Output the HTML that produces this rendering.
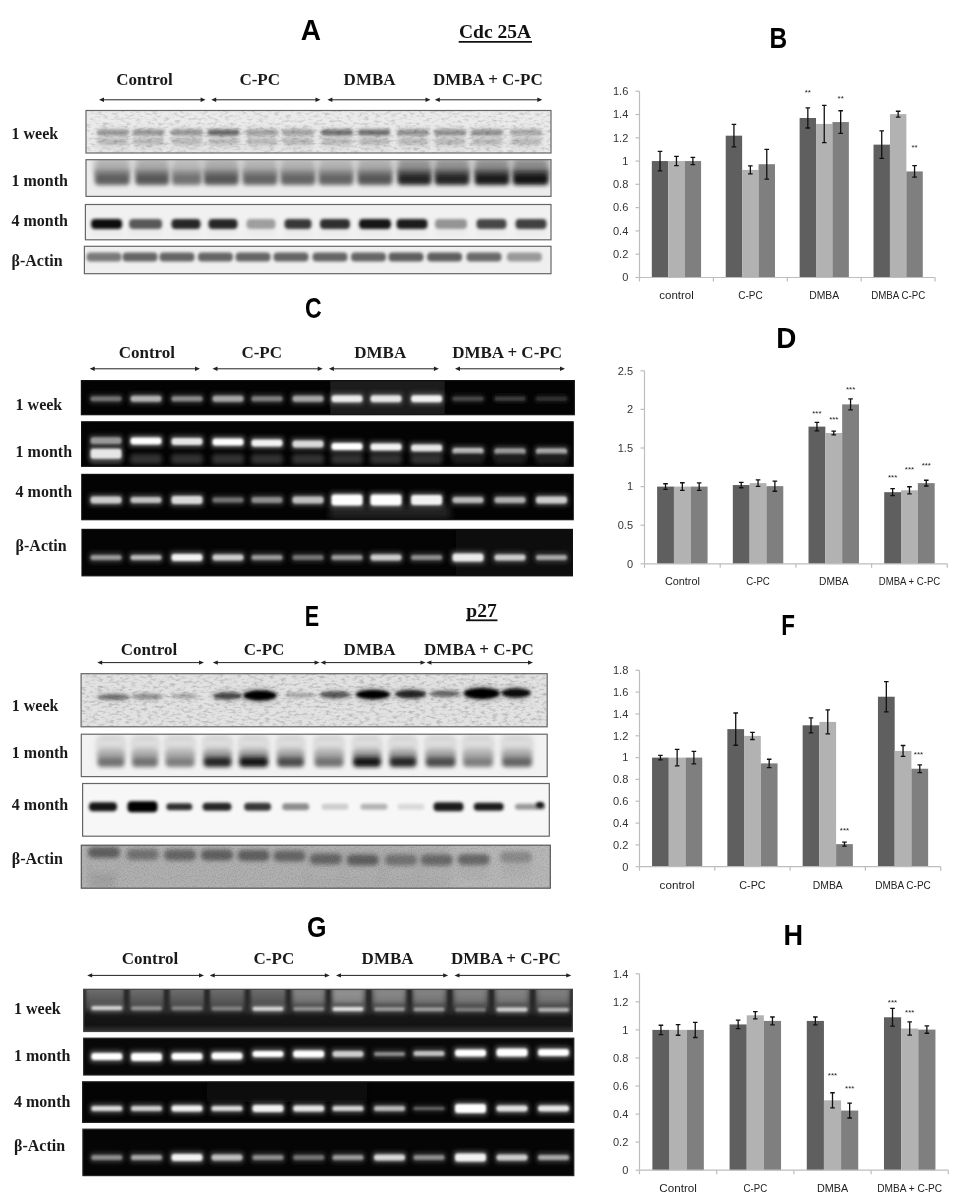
<!DOCTYPE html><html><head><meta charset="utf-8"><style>html,body{margin:0;padding:0;background:#fff;overflow:hidden}svg{display:block;}</style></head><body>
<svg width="963" height="1200">
<defs><filter id="b1" x="-50%" y="-100%" width="200%" height="300%"><feGaussianBlur stdDeviation="1"/></filter><filter id="b15" x="-50%" y="-100%" width="200%" height="300%"><feGaussianBlur stdDeviation="1.5"/></filter><filter id="b2" x="-50%" y="-100%" width="200%" height="300%"><feGaussianBlur stdDeviation="2"/></filter><filter id="b3" x="-50%" y="-100%" width="200%" height="300%"><feGaussianBlur stdDeviation="3"/></filter><filter id="b4" x="-50%" y="-100%" width="200%" height="300%"><feGaussianBlur stdDeviation="4"/></filter><filter id="noise" x="0" y="0" width="100%" height="100%"><feTurbulence type="fractalNoise" baseFrequency="0.18 0.4" numOctaves="3" seed="3"/><feColorMatrix type="matrix" values="0 0 0 0 0  0 0 0 0 0  0 0 0 0 0  0 0 0 -2.4 1.3"/><feGaussianBlur stdDeviation="0.6"/></filter><filter id="noise2" x="0" y="0" width="100%" height="100%"><feTurbulence type="fractalNoise" baseFrequency="0.25 0.12" numOctaves="2" seed="7"/><feColorMatrix type="matrix" values="0 0 0 0 1  0 0 0 0 1  0 0 0 0 1  0 0 0 -2.5 1.5"/></filter><filter id="noise3" x="0" y="0" width="100%" height="100%"><feTurbulence type="fractalNoise" baseFrequency="0.7 0.9" numOctaves="2" seed="11"/><feColorMatrix type="matrix" values="0 0 0 0 0  0 0 0 0 0  0 0 0 0 0  0 0 0 -2.6 1.45"/><feGaussianBlur stdDeviation="0.5"/></filter><linearGradient id="gw" x1="0" y1="0" x2="0" y2="1"><stop offset="0" stop-color="#6e6e6e"/><stop offset="0.4" stop-color="#4c4c4c"/><stop offset="0.56" stop-color="#181818"/><stop offset="0.85" stop-color="#131313"/><stop offset="1" stop-color="#363636"/></linearGradient><linearGradient id="well" x1="0" y1="0" x2="0" y2="1"><stop offset="0" stop-color="#6a6a6a"/><stop offset="1" stop-color="#2a2a2a"/></linearGradient></defs>
<rect width="963" height="1200" fill="#fff"/>
<text transform="translate(300.66,40.30) scale(0.2803,0.2956)" font-family='"Liberation Sans", sans-serif' font-size="100" font-weight="bold" fill="#000">A</text>
<text transform="translate(769.59,47.70) scale(0.2443,0.2884)" font-family='"Liberation Sans", sans-serif' font-size="100" font-weight="bold" fill="#000">B</text>
<text transform="translate(305.08,317.51) scale(0.2308,0.2859)" font-family='"Liberation Sans", sans-serif' font-size="100" font-weight="bold" fill="#000">C</text>
<text transform="translate(776.35,347.80) scale(0.2787,0.2913)" font-family='"Liberation Sans", sans-serif' font-size="100" font-weight="bold" fill="#000">D</text>
<text transform="translate(304.69,625.90) scale(0.2161,0.2899)" font-family='"Liberation Sans", sans-serif' font-size="100" font-weight="bold" fill="#000">E</text>
<text transform="translate(781.33,634.70) scale(0.2240,0.2957)" font-family='"Liberation Sans", sans-serif' font-size="100" font-weight="bold" fill="#000">F</text>
<text transform="translate(307.00,936.70) scale(0.2500,0.2958)" font-family='"Liberation Sans", sans-serif' font-size="100" font-weight="bold" fill="#000">G</text>
<text transform="translate(783.41,944.90) scale(0.2707,0.2884)" font-family='"Liberation Sans", sans-serif' font-size="100" font-weight="bold" fill="#000">H</text>
<text x="459.0" y="38.1" font-family='"Liberation Serif", serif' font-size="19.5" font-weight="bold" text-anchor="start" fill="#111" >Cdc 25A</text>
<line x1="458.7" y1="41.8" x2="532" y2="41.8" stroke="#111" stroke-width="1.8"/>
<text x="144.5" y="84.7" font-family='"Liberation Serif", serif' font-size="17" font-weight="bold" text-anchor="middle" fill="#1a1a1a" >Control</text>
<text x="259.7" y="84.7" font-family='"Liberation Serif", serif' font-size="17" font-weight="bold" text-anchor="middle" fill="#1a1a1a" >C-PC</text>
<text x="369.6" y="84.7" font-family='"Liberation Serif", serif' font-size="17" font-weight="bold" text-anchor="middle" fill="#1a1a1a" >DMBA</text>
<text x="487.8" y="84.7" font-family='"Liberation Serif", serif' font-size="17" font-weight="bold" text-anchor="middle" fill="#1a1a1a" >DMBA + C-PC</text>
<line x1="102.0" y1="99.8" x2="202.6" y2="99.8" stroke="#222" stroke-width="1"/>
<path d="M99.0,99.8 l5,-2.2 v4.4 z M205.6,99.8 l-5,-2.2 v4.4 z" fill="#222"/>
<line x1="214.2" y1="99.8" x2="317.5" y2="99.8" stroke="#222" stroke-width="1"/>
<path d="M211.2,99.8 l5,-2.2 v4.4 z M320.5,99.8 l-5,-2.2 v4.4 z" fill="#222"/>
<line x1="330.4" y1="99.8" x2="427.5" y2="99.8" stroke="#222" stroke-width="1"/>
<path d="M327.4,99.8 l5,-2.2 v4.4 z M430.5,99.8 l-5,-2.2 v4.4 z" fill="#222"/>
<line x1="437.8" y1="99.8" x2="539.3" y2="99.8" stroke="#222" stroke-width="1"/>
<path d="M434.8,99.8 l5,-2.2 v4.4 z M542.3,99.8 l-5,-2.2 v4.4 z" fill="#222"/>
<text x="11.5" y="138.5" font-family='"Liberation Serif", serif' font-size="16" font-weight="bold" text-anchor="start" fill="#1a1a1a" >1 week</text>
<text x="11.5" y="186.2" font-family='"Liberation Serif", serif' font-size="16" font-weight="bold" text-anchor="start" fill="#1a1a1a" >1 month</text>
<text x="11.5" y="225.7" font-family='"Liberation Serif", serif' font-size="16" font-weight="bold" text-anchor="start" fill="#1a1a1a" >4 month</text>
<text x="11.5" y="266.2" font-family='"Liberation Serif", serif' font-size="16" font-weight="bold" text-anchor="start" fill="#1a1a1a" >β-Actin</text>
<rect x="86.0" y="110.5" width="465.0" height="42.5" fill="#ebebeb"/>
<svg x="86.0" y="110.5" width="465.0" height="42.5" overflow="hidden">
<rect x="11.0" y="17.5" width="32.0" height="22.0" rx="4.0" fill="rgb(219,219,219)" filter="url(#b3)"/>
<rect x="11.0" y="19.0" width="32.0" height="6.0" rx="3.0" fill="rgb(153,153,153)" filter="url(#b15)"/>
<rect x="12.0" y="28.0" width="30.0" height="6.0" rx="3.0" fill="rgb(186,186,186)" filter="url(#b15)"/>
<rect x="46.5" y="17.5" width="32.0" height="22.0" rx="4.0" fill="rgb(219,219,219)" filter="url(#b3)"/>
<rect x="46.5" y="19.0" width="32.0" height="6.0" rx="3.0" fill="rgb(153,153,153)" filter="url(#b15)"/>
<rect x="47.5" y="28.0" width="30.0" height="6.0" rx="3.0" fill="rgb(186,186,186)" filter="url(#b15)"/>
<rect x="85.0" y="17.5" width="32.0" height="22.0" rx="4.0" fill="rgb(219,219,219)" filter="url(#b3)"/>
<rect x="85.0" y="19.0" width="32.0" height="6.0" rx="3.0" fill="rgb(153,153,153)" filter="url(#b15)"/>
<rect x="86.0" y="28.0" width="30.0" height="6.0" rx="3.0" fill="rgb(186,186,186)" filter="url(#b15)"/>
<rect x="121.5" y="17.5" width="32.0" height="22.0" rx="4.0" fill="rgb(219,219,219)" filter="url(#b3)"/>
<rect x="121.5" y="19.0" width="32.0" height="6.0" rx="3.0" fill="rgb(105,105,105)" filter="url(#b15)"/>
<rect x="122.5" y="28.0" width="30.0" height="6.0" rx="3.0" fill="rgb(186,186,186)" filter="url(#b15)"/>
<rect x="160.0" y="17.5" width="32.0" height="22.0" rx="4.0" fill="rgb(219,219,219)" filter="url(#b3)"/>
<rect x="160.0" y="19.0" width="32.0" height="6.0" rx="3.0" fill="rgb(163,163,163)" filter="url(#b15)"/>
<rect x="161.0" y="28.0" width="30.0" height="6.0" rx="3.0" fill="rgb(186,186,186)" filter="url(#b15)"/>
<rect x="196.0" y="17.5" width="32.0" height="22.0" rx="4.0" fill="rgb(219,219,219)" filter="url(#b3)"/>
<rect x="196.0" y="19.0" width="32.0" height="6.0" rx="3.0" fill="rgb(163,163,163)" filter="url(#b15)"/>
<rect x="197.0" y="28.0" width="30.0" height="6.0" rx="3.0" fill="rgb(186,186,186)" filter="url(#b15)"/>
<rect x="235.0" y="17.5" width="32.0" height="22.0" rx="4.0" fill="rgb(219,219,219)" filter="url(#b3)"/>
<rect x="235.0" y="19.0" width="32.0" height="6.0" rx="3.0" fill="rgb(114,114,114)" filter="url(#b15)"/>
<rect x="236.0" y="28.0" width="30.0" height="6.0" rx="3.0" fill="rgb(186,186,186)" filter="url(#b15)"/>
<rect x="272.0" y="17.5" width="32.0" height="22.0" rx="4.0" fill="rgb(219,219,219)" filter="url(#b3)"/>
<rect x="272.0" y="19.0" width="32.0" height="6.0" rx="3.0" fill="rgb(114,114,114)" filter="url(#b15)"/>
<rect x="273.0" y="28.0" width="30.0" height="6.0" rx="3.0" fill="rgb(186,186,186)" filter="url(#b15)"/>
<rect x="311.0" y="17.5" width="32.0" height="22.0" rx="4.0" fill="rgb(219,219,219)" filter="url(#b3)"/>
<rect x="311.0" y="19.0" width="32.0" height="6.0" rx="3.0" fill="rgb(146,146,146)" filter="url(#b15)"/>
<rect x="312.0" y="28.0" width="30.0" height="6.0" rx="3.0" fill="rgb(186,186,186)" filter="url(#b15)"/>
<rect x="348.0" y="17.5" width="32.0" height="22.0" rx="4.0" fill="rgb(219,219,219)" filter="url(#b3)"/>
<rect x="348.0" y="19.0" width="32.0" height="6.0" rx="3.0" fill="rgb(146,146,146)" filter="url(#b15)"/>
<rect x="349.0" y="28.0" width="30.0" height="6.0" rx="3.0" fill="rgb(186,186,186)" filter="url(#b15)"/>
<rect x="385.0" y="17.5" width="32.0" height="22.0" rx="4.0" fill="rgb(219,219,219)" filter="url(#b3)"/>
<rect x="385.0" y="19.0" width="32.0" height="6.0" rx="3.0" fill="rgb(146,146,146)" filter="url(#b15)"/>
<rect x="386.0" y="28.0" width="30.0" height="6.0" rx="3.0" fill="rgb(186,186,186)" filter="url(#b15)"/>
<rect x="424.0" y="17.5" width="32.0" height="22.0" rx="4.0" fill="rgb(219,219,219)" filter="url(#b3)"/>
<rect x="424.0" y="19.0" width="32.0" height="6.0" rx="3.0" fill="rgb(170,170,170)" filter="url(#b15)"/>
<rect x="425.0" y="28.0" width="30.0" height="6.0" rx="3.0" fill="rgb(186,186,186)" filter="url(#b15)"/>
<rect x="0" y="0" width="465.0" height="42.5" filter="url(#noise)" opacity="0.16"/>
</svg>
<rect x="86.0" y="110.5" width="465.0" height="42.5" fill="none" stroke="#666" stroke-width="1.2"/>
<rect x="86.0" y="159.7" width="465.0" height="36.7" fill="#ececec"/>
<svg x="86.0" y="159.7" width="465.0" height="36.7" overflow="hidden">
<rect x="8.3" y="-1.7" width="36.0" height="14.0" rx="3.0" fill="rgb(176,176,176)" filter="url(#b3)"/>
<rect x="8.3" y="8.3" width="36.0" height="8.0" rx="3.0" fill="rgb(147,147,147)" filter="url(#b2)"/>
<rect x="8.8" y="13.3" width="35.0" height="12.0" rx="4.0" fill="rgb(97,97,97)" filter="url(#b2)"/>
<rect x="48.7" y="-1.7" width="35.0" height="14.0" rx="3.0" fill="rgb(172,172,172)" filter="url(#b3)"/>
<rect x="48.7" y="8.3" width="35.0" height="8.0" rx="3.0" fill="rgb(142,142,142)" filter="url(#b2)"/>
<rect x="49.2" y="13.3" width="34.0" height="12.0" rx="4.0" fill="rgb(89,89,89)" filter="url(#b2)"/>
<rect x="85.2" y="-1.7" width="31.0" height="14.0" rx="3.0" fill="rgb(185,185,185)" filter="url(#b3)"/>
<rect x="85.2" y="8.3" width="31.0" height="8.0" rx="3.0" fill="rgb(160,160,160)" filter="url(#b2)"/>
<rect x="85.7" y="13.3" width="30.0" height="12.0" rx="4.0" fill="rgb(115,115,115)" filter="url(#b2)"/>
<rect x="117.2" y="-1.7" width="36.0" height="14.0" rx="3.0" fill="rgb(172,172,172)" filter="url(#b3)"/>
<rect x="117.2" y="8.3" width="36.0" height="8.0" rx="3.0" fill="rgb(142,142,142)" filter="url(#b2)"/>
<rect x="117.7" y="13.3" width="35.0" height="12.0" rx="4.0" fill="rgb(89,89,89)" filter="url(#b2)"/>
<rect x="156.0" y="-1.7" width="36.0" height="14.0" rx="3.0" fill="rgb(178,178,178)" filter="url(#b3)"/>
<rect x="156.0" y="8.3" width="36.0" height="8.0" rx="3.0" fill="rgb(151,151,151)" filter="url(#b2)"/>
<rect x="156.5" y="13.3" width="35.0" height="12.0" rx="4.0" fill="rgb(102,102,102)" filter="url(#b2)"/>
<rect x="194.0" y="-1.7" width="36.0" height="14.0" rx="3.0" fill="rgb(178,178,178)" filter="url(#b3)"/>
<rect x="194.0" y="8.3" width="36.0" height="8.0" rx="3.0" fill="rgb(151,151,151)" filter="url(#b2)"/>
<rect x="194.5" y="13.3" width="35.0" height="12.0" rx="4.0" fill="rgb(102,102,102)" filter="url(#b2)"/>
<rect x="232.0" y="-1.7" width="36.0" height="14.0" rx="3.0" fill="rgb(178,178,178)" filter="url(#b3)"/>
<rect x="232.0" y="8.3" width="36.0" height="8.0" rx="3.0" fill="rgb(151,151,151)" filter="url(#b2)"/>
<rect x="232.5" y="13.3" width="35.0" height="12.0" rx="4.0" fill="rgb(102,102,102)" filter="url(#b2)"/>
<rect x="271.0" y="-1.7" width="36.0" height="14.0" rx="3.0" fill="rgb(172,172,172)" filter="url(#b3)"/>
<rect x="271.0" y="8.3" width="36.0" height="8.0" rx="3.0" fill="rgb(142,142,142)" filter="url(#b2)"/>
<rect x="271.5" y="13.3" width="35.0" height="12.0" rx="4.0" fill="rgb(89,89,89)" filter="url(#b2)"/>
<rect x="311.0" y="-1.7" width="35.0" height="14.0" rx="3.0" fill="rgb(147,147,147)" filter="url(#b3)"/>
<rect x="311.0" y="8.3" width="35.0" height="8.0" rx="3.0" fill="rgb(108,108,108)" filter="url(#b2)"/>
<rect x="311.5" y="13.3" width="34.0" height="12.0" rx="4.0" fill="rgb(38,38,38)" filter="url(#b2)"/>
<rect x="348.0" y="-1.7" width="36.0" height="14.0" rx="3.0" fill="rgb(147,147,147)" filter="url(#b3)"/>
<rect x="348.0" y="8.3" width="36.0" height="8.0" rx="3.0" fill="rgb(108,108,108)" filter="url(#b2)"/>
<rect x="348.5" y="13.3" width="35.0" height="12.0" rx="4.0" fill="rgb(38,38,38)" filter="url(#b2)"/>
<rect x="388.0" y="-1.7" width="36.0" height="14.0" rx="3.0" fill="rgb(143,143,143)" filter="url(#b3)"/>
<rect x="388.0" y="8.3" width="36.0" height="8.0" rx="3.0" fill="rgb(102,102,102)" filter="url(#b2)"/>
<rect x="388.5" y="13.3" width="35.0" height="12.0" rx="4.0" fill="rgb(31,31,31)" filter="url(#b2)"/>
<rect x="426.1" y="-1.7" width="37.0" height="14.0" rx="3.0" fill="rgb(140,140,140)" filter="url(#b3)"/>
<rect x="426.1" y="8.3" width="37.0" height="8.0" rx="3.0" fill="rgb(99,99,99)" filter="url(#b2)"/>
<rect x="426.6" y="13.3" width="36.0" height="12.0" rx="4.0" fill="rgb(25,25,25)" filter="url(#b2)"/>
</svg>
<rect x="86.0" y="159.7" width="465.0" height="36.7" fill="none" stroke="#666" stroke-width="1.2"/>
<rect x="85.4" y="204.5" width="465.6" height="35.3" fill="#f1f1f1"/>
<svg x="85.4" y="204.5" width="465.6" height="35.3" overflow="hidden">
<rect x="5.7" y="25.5" width="31.0" height="6.0" rx="3.0" fill="rgb(235,235,235)" filter="url(#b2)"/>
<rect x="5.7" y="14.5" width="31.0" height="10.0" rx="4.0" fill="rgb(13,13,13)" filter="url(#b15)"/>
<rect x="43.7" y="25.5" width="33.0" height="6.0" rx="3.0" fill="rgb(235,235,235)" filter="url(#b2)"/>
<rect x="43.7" y="14.5" width="33.0" height="10.0" rx="4.0" fill="rgb(89,89,89)" filter="url(#b15)"/>
<rect x="86.1" y="25.5" width="29.0" height="6.0" rx="3.0" fill="rgb(235,235,235)" filter="url(#b2)"/>
<rect x="86.1" y="14.5" width="29.0" height="10.0" rx="4.0" fill="rgb(38,38,38)" filter="url(#b15)"/>
<rect x="123.1" y="25.5" width="29.0" height="6.0" rx="3.0" fill="rgb(235,235,235)" filter="url(#b2)"/>
<rect x="123.1" y="14.5" width="29.0" height="10.0" rx="4.0" fill="rgb(38,38,38)" filter="url(#b15)"/>
<rect x="161.1" y="25.5" width="29.0" height="6.0" rx="3.0" fill="rgb(235,235,235)" filter="url(#b2)"/>
<rect x="161.1" y="14.5" width="29.0" height="10.0" rx="4.0" fill="rgb(158,158,158)" filter="url(#b15)"/>
<rect x="199.1" y="25.5" width="27.0" height="6.0" rx="3.0" fill="rgb(235,235,235)" filter="url(#b2)"/>
<rect x="199.1" y="14.5" width="27.0" height="10.0" rx="4.0" fill="rgb(56,56,56)" filter="url(#b15)"/>
<rect x="234.6" y="25.5" width="30.0" height="6.0" rx="3.0" fill="rgb(235,235,235)" filter="url(#b2)"/>
<rect x="234.6" y="14.5" width="30.0" height="10.0" rx="4.0" fill="rgb(46,46,46)" filter="url(#b15)"/>
<rect x="273.6" y="25.5" width="32.0" height="6.0" rx="3.0" fill="rgb(235,235,235)" filter="url(#b2)"/>
<rect x="273.6" y="14.5" width="32.0" height="10.0" rx="4.0" fill="rgb(20,20,20)" filter="url(#b15)"/>
<rect x="311.1" y="25.5" width="31.0" height="6.0" rx="3.0" fill="rgb(235,235,235)" filter="url(#b2)"/>
<rect x="311.1" y="14.5" width="31.0" height="10.0" rx="4.0" fill="rgb(31,31,31)" filter="url(#b15)"/>
<rect x="349.6" y="25.5" width="32.0" height="6.0" rx="3.0" fill="rgb(235,235,235)" filter="url(#b2)"/>
<rect x="349.6" y="14.5" width="32.0" height="10.0" rx="4.0" fill="rgb(148,148,148)" filter="url(#b15)"/>
<rect x="391.1" y="25.5" width="30.0" height="6.0" rx="3.0" fill="rgb(235,235,235)" filter="url(#b2)"/>
<rect x="391.1" y="14.5" width="30.0" height="10.0" rx="4.0" fill="rgb(71,71,71)" filter="url(#b15)"/>
<rect x="430.1" y="25.5" width="31.0" height="6.0" rx="3.0" fill="rgb(235,235,235)" filter="url(#b2)"/>
<rect x="430.1" y="14.5" width="31.0" height="10.0" rx="4.0" fill="rgb(64,64,64)" filter="url(#b15)"/>
</svg>
<rect x="85.4" y="204.5" width="465.6" height="35.3" fill="none" stroke="#666" stroke-width="1.2"/>
<rect x="84.4" y="246.3" width="466.6" height="27.4" fill="#efefef"/>
<svg x="84.4" y="246.3" width="466.6" height="27.4" overflow="hidden">
<rect x="2.1" y="6.2" width="35.0" height="9.0" rx="4.0" fill="rgb(122,122,122)" filter="url(#b15)"/>
<rect x="38.1" y="6.2" width="35.0" height="9.0" rx="4.0" fill="rgb(102,102,102)" filter="url(#b15)"/>
<rect x="75.1" y="6.2" width="35.0" height="9.0" rx="4.0" fill="rgb(102,102,102)" filter="url(#b15)"/>
<rect x="113.5" y="6.2" width="35.0" height="9.0" rx="4.0" fill="rgb(102,102,102)" filter="url(#b15)"/>
<rect x="151.1" y="6.2" width="35.0" height="9.0" rx="4.0" fill="rgb(102,102,102)" filter="url(#b15)"/>
<rect x="189.1" y="6.2" width="35.0" height="9.0" rx="4.0" fill="rgb(102,102,102)" filter="url(#b15)"/>
<rect x="228.1" y="6.2" width="35.0" height="9.0" rx="4.0" fill="rgb(102,102,102)" filter="url(#b15)"/>
<rect x="266.6" y="6.2" width="35.0" height="9.0" rx="4.0" fill="rgb(102,102,102)" filter="url(#b15)"/>
<rect x="304.1" y="6.2" width="35.0" height="9.0" rx="4.0" fill="rgb(97,97,97)" filter="url(#b15)"/>
<rect x="342.7" y="6.2" width="35.0" height="9.0" rx="4.0" fill="rgb(97,97,97)" filter="url(#b15)"/>
<rect x="382.1" y="6.2" width="35.0" height="9.0" rx="4.0" fill="rgb(107,107,107)" filter="url(#b15)"/>
<rect x="422.5" y="6.2" width="35.0" height="9.0" rx="4.0" fill="rgb(153,153,153)" filter="url(#b15)"/>
</svg>
<rect x="84.4" y="246.3" width="466.6" height="27.4" fill="none" stroke="#666" stroke-width="1.2"/>
<text x="146.9" y="357.6" font-family='"Liberation Serif", serif' font-size="17" font-weight="bold" text-anchor="middle" fill="#1a1a1a" >Control</text>
<text x="261.7" y="357.6" font-family='"Liberation Serif", serif' font-size="17" font-weight="bold" text-anchor="middle" fill="#1a1a1a" >C-PC</text>
<text x="380.2" y="357.6" font-family='"Liberation Serif", serif' font-size="17" font-weight="bold" text-anchor="middle" fill="#1a1a1a" >DMBA</text>
<text x="507.1" y="357.6" font-family='"Liberation Serif", serif' font-size="17" font-weight="bold" text-anchor="middle" fill="#1a1a1a" >DMBA + C-PC</text>
<line x1="92.7" y1="368.8" x2="197.0" y2="368.8" stroke="#222" stroke-width="1"/>
<path d="M89.7,368.8 l5,-2.2 v4.4 z M200.0,368.8 l-5,-2.2 v4.4 z" fill="#222"/>
<line x1="215.5" y1="368.8" x2="319.7" y2="368.8" stroke="#222" stroke-width="1"/>
<path d="M212.5,368.8 l5,-2.2 v4.4 z M322.7,368.8 l-5,-2.2 v4.4 z" fill="#222"/>
<line x1="331.9" y1="368.8" x2="435.9" y2="368.8" stroke="#222" stroke-width="1"/>
<path d="M328.9,368.8 l5,-2.2 v4.4 z M438.9,368.8 l-5,-2.2 v4.4 z" fill="#222"/>
<line x1="458.0" y1="368.8" x2="562.0" y2="368.8" stroke="#222" stroke-width="1"/>
<path d="M455.0,368.8 l5,-2.2 v4.4 z M565.0,368.8 l-5,-2.2 v4.4 z" fill="#222"/>
<text x="15.6" y="410.0" font-family='"Liberation Serif", serif' font-size="16" font-weight="bold" text-anchor="start" fill="#1a1a1a" >1 week</text>
<text x="15.6" y="457.3" font-family='"Liberation Serif", serif' font-size="16" font-weight="bold" text-anchor="start" fill="#1a1a1a" >1 month</text>
<text x="15.6" y="497.0" font-family='"Liberation Serif", serif' font-size="16" font-weight="bold" text-anchor="start" fill="#1a1a1a" >4 month</text>
<text x="15.6" y="551.0" font-family='"Liberation Serif", serif' font-size="16" font-weight="bold" text-anchor="start" fill="#1a1a1a" >β-Actin</text>
<rect x="81.4" y="380.6" width="492.9" height="34.1" fill="#030303"/>
<svg x="81.4" y="380.6" width="492.9" height="34.1" overflow="hidden">
<rect x="248.9" y="0.0" width="114.4" height="34.1" fill="#1c1c1c" opacity="1"/>
<rect x="7.6" y="13.2" width="34.0" height="10.0" rx="3.0" fill="rgb(40,40,40)" filter="url(#b2)"/>
<rect x="9.1" y="15.7" width="31.0" height="5.0" rx="2.5" fill="rgb(115,115,115)" filter="url(#b1)"/>
<rect x="47.6" y="12.7" width="34.0" height="11.0" rx="3.0" fill="rgb(62,62,62)" filter="url(#b2)"/>
<rect x="49.1" y="15.2" width="31.0" height="6.0" rx="3.0" fill="rgb(178,178,178)" filter="url(#b1)"/>
<rect x="88.6" y="13.2" width="34.0" height="10.0" rx="3.0" fill="rgb(49,49,49)" filter="url(#b2)"/>
<rect x="90.1" y="15.7" width="31.0" height="5.0" rx="2.5" fill="rgb(140,140,140)" filter="url(#b1)"/>
<rect x="129.6" y="12.7" width="34.0" height="11.0" rx="3.0" fill="rgb(58,58,58)" filter="url(#b2)"/>
<rect x="131.1" y="15.2" width="31.0" height="6.0" rx="3.0" fill="rgb(166,166,166)" filter="url(#b1)"/>
<rect x="168.6" y="13.2" width="34.0" height="10.0" rx="3.0" fill="rgb(45,45,45)" filter="url(#b2)"/>
<rect x="170.1" y="15.7" width="31.0" height="5.0" rx="2.5" fill="rgb(128,128,128)" filter="url(#b1)"/>
<rect x="209.6" y="12.7" width="34.0" height="11.0" rx="3.0" fill="rgb(58,58,58)" filter="url(#b2)"/>
<rect x="211.1" y="15.2" width="31.0" height="6.0" rx="3.0" fill="rgb(166,166,166)" filter="url(#b1)"/>
<rect x="248.6" y="12.2" width="34.0" height="12.0" rx="3.0" fill="rgb(82,82,82)" filter="url(#b2)"/>
<rect x="250.1" y="14.7" width="31.0" height="7.0" rx="3.0" fill="rgb(235,235,235)" filter="url(#b1)"/>
<rect x="287.6" y="12.2" width="34.0" height="12.0" rx="3.0" fill="rgb(80,80,80)" filter="url(#b2)"/>
<rect x="289.1" y="14.7" width="31.0" height="7.0" rx="3.0" fill="rgb(230,230,230)" filter="url(#b1)"/>
<rect x="328.2" y="12.2" width="34.0" height="12.0" rx="3.0" fill="rgb(85,85,85)" filter="url(#b2)"/>
<rect x="329.7" y="14.7" width="31.0" height="7.0" rx="3.0" fill="rgb(242,242,242)" filter="url(#b1)"/>
<rect x="369.6" y="13.7" width="34.0" height="9.0" rx="3.0" fill="rgb(27,27,27)" filter="url(#b2)"/>
<rect x="371.1" y="16.2" width="31.0" height="4.0" rx="2.0" fill="rgb(76,76,76)" filter="url(#b1)"/>
<rect x="411.6" y="13.7" width="34.0" height="9.0" rx="3.0" fill="rgb(22,22,22)" filter="url(#b2)"/>
<rect x="413.1" y="16.2" width="31.0" height="4.0" rx="2.0" fill="rgb(64,64,64)" filter="url(#b1)"/>
<rect x="453.1" y="13.7" width="34.0" height="9.0" rx="3.0" fill="rgb(18,18,18)" filter="url(#b2)"/>
<rect x="454.6" y="16.2" width="31.0" height="4.0" rx="2.0" fill="rgb(51,51,51)" filter="url(#b1)"/>
</svg>
<rect x="81.4" y="380.6" width="492.9" height="34.1" fill="none" stroke="#111" stroke-width="1.2"/>
<rect x="81.6" y="421.8" width="491.6" height="44.5" fill="#030303"/>
<svg x="81.6" y="421.8" width="491.6" height="44.5" overflow="hidden">
<rect x="7.4" y="12.9" width="34.0" height="12.0" rx="3.0" fill="rgb(54,54,54)" filter="url(#b2)"/>
<rect x="8.9" y="15.4" width="31.0" height="7.0" rx="3.0" fill="rgb(153,153,153)" filter="url(#b1)"/>
<rect x="8.4" y="32.2" width="32.0" height="10.0" rx="4.0" fill="rgb(51,51,51)" filter="url(#b2)"/>
<rect x="47.4" y="13.2" width="34.0" height="12.0" rx="3.0" fill="rgb(89,89,89)" filter="url(#b2)"/>
<rect x="48.9" y="15.7" width="31.0" height="7.0" rx="3.0" fill="rgb(255,255,255)" filter="url(#b1)"/>
<rect x="48.4" y="32.2" width="32.0" height="10.0" rx="4.0" fill="rgb(51,51,51)" filter="url(#b2)"/>
<rect x="88.4" y="13.7" width="34.0" height="12.0" rx="3.0" fill="rgb(80,80,80)" filter="url(#b2)"/>
<rect x="89.9" y="16.2" width="31.0" height="7.0" rx="3.0" fill="rgb(230,230,230)" filter="url(#b1)"/>
<rect x="89.4" y="32.2" width="32.0" height="10.0" rx="4.0" fill="rgb(51,51,51)" filter="url(#b2)"/>
<rect x="129.4" y="14.2" width="34.0" height="12.0" rx="3.0" fill="rgb(89,89,89)" filter="url(#b2)"/>
<rect x="130.9" y="16.7" width="31.0" height="7.0" rx="3.0" fill="rgb(255,255,255)" filter="url(#b1)"/>
<rect x="130.4" y="32.2" width="32.0" height="10.0" rx="4.0" fill="rgb(51,51,51)" filter="url(#b2)"/>
<rect x="168.4" y="15.2" width="34.0" height="12.0" rx="3.0" fill="rgb(85,85,85)" filter="url(#b2)"/>
<rect x="169.9" y="17.7" width="31.0" height="7.0" rx="3.0" fill="rgb(242,242,242)" filter="url(#b1)"/>
<rect x="169.4" y="32.2" width="32.0" height="10.0" rx="4.0" fill="rgb(51,51,51)" filter="url(#b2)"/>
<rect x="209.4" y="16.2" width="34.0" height="12.0" rx="3.0" fill="rgb(76,76,76)" filter="url(#b2)"/>
<rect x="210.9" y="18.7" width="31.0" height="7.0" rx="3.0" fill="rgb(217,217,217)" filter="url(#b1)"/>
<rect x="210.4" y="32.2" width="32.0" height="10.0" rx="4.0" fill="rgb(51,51,51)" filter="url(#b2)"/>
<rect x="248.4" y="18.7" width="34.0" height="12.0" rx="3.0" fill="rgb(89,89,89)" filter="url(#b2)"/>
<rect x="249.9" y="21.2" width="31.0" height="7.0" rx="3.0" fill="rgb(255,255,255)" filter="url(#b1)"/>
<rect x="249.4" y="32.2" width="32.0" height="10.0" rx="4.0" fill="rgb(51,51,51)" filter="url(#b2)"/>
<rect x="287.4" y="19.2" width="34.0" height="12.0" rx="3.0" fill="rgb(85,85,85)" filter="url(#b2)"/>
<rect x="288.9" y="21.7" width="31.0" height="7.0" rx="3.0" fill="rgb(242,242,242)" filter="url(#b1)"/>
<rect x="288.4" y="32.2" width="32.0" height="10.0" rx="4.0" fill="rgb(51,51,51)" filter="url(#b2)"/>
<rect x="328.0" y="20.2" width="34.0" height="12.0" rx="3.0" fill="rgb(80,80,80)" filter="url(#b2)"/>
<rect x="329.5" y="22.7" width="31.0" height="7.0" rx="3.0" fill="rgb(230,230,230)" filter="url(#b1)"/>
<rect x="329.0" y="32.2" width="32.0" height="10.0" rx="4.0" fill="rgb(51,51,51)" filter="url(#b2)"/>
<rect x="369.4" y="23.7" width="34.0" height="11.0" rx="3.0" fill="rgb(67,67,67)" filter="url(#b2)"/>
<rect x="370.9" y="26.2" width="31.0" height="6.0" rx="3.0" fill="rgb(191,191,191)" filter="url(#b1)"/>
<rect x="370.4" y="32.2" width="32.0" height="10.0" rx="4.0" fill="rgb(26,26,26)" filter="url(#b2)"/>
<rect x="411.4" y="24.2" width="34.0" height="11.0" rx="3.0" fill="rgb(58,58,58)" filter="url(#b2)"/>
<rect x="412.9" y="26.7" width="31.0" height="6.0" rx="3.0" fill="rgb(166,166,166)" filter="url(#b1)"/>
<rect x="412.4" y="32.2" width="32.0" height="10.0" rx="4.0" fill="rgb(26,26,26)" filter="url(#b2)"/>
<rect x="452.9" y="24.3" width="34.0" height="11.0" rx="3.0" fill="rgb(62,62,62)" filter="url(#b2)"/>
<rect x="454.4" y="26.8" width="31.0" height="6.0" rx="3.0" fill="rgb(178,178,178)" filter="url(#b1)"/>
<rect x="453.9" y="32.2" width="32.0" height="10.0" rx="4.0" fill="rgb(26,26,26)" filter="url(#b2)"/>
<rect x="7.4" y="24.4" width="34.0" height="15.0" rx="3.0" fill="rgb(80,80,80)" filter="url(#b2)"/>
<rect x="8.9" y="26.9" width="31.0" height="10.0" rx="3.0" fill="rgb(230,230,230)" filter="url(#b1)"/>
</svg>
<rect x="81.6" y="421.8" width="491.6" height="44.5" fill="none" stroke="#111" stroke-width="1.2"/>
<rect x="81.8" y="474.4" width="491.4" height="45.3" fill="#030303"/>
<svg x="81.8" y="474.4" width="491.4" height="45.3" overflow="hidden">
<rect x="248.2" y="30.6" width="120.0" height="14.0" fill="#202020" opacity="1" filter="url(#b3)"/>
<rect x="7.2" y="19.6" width="34.0" height="12.0" rx="3.0" fill="rgb(71,71,71)" filter="url(#b2)"/>
<rect x="8.7" y="22.1" width="31.0" height="7.0" rx="3.0" fill="rgb(204,204,204)" filter="url(#b1)"/>
<rect x="47.2" y="20.1" width="34.0" height="11.0" rx="3.0" fill="rgb(67,67,67)" filter="url(#b2)"/>
<rect x="48.7" y="22.6" width="31.0" height="6.0" rx="3.0" fill="rgb(191,191,191)" filter="url(#b1)"/>
<rect x="88.2" y="19.1" width="34.0" height="13.0" rx="3.0" fill="rgb(76,76,76)" filter="url(#b2)"/>
<rect x="89.7" y="21.6" width="31.0" height="8.0" rx="3.0" fill="rgb(217,217,217)" filter="url(#b1)"/>
<rect x="129.2" y="20.6" width="34.0" height="10.0" rx="3.0" fill="rgb(40,40,40)" filter="url(#b2)"/>
<rect x="130.7" y="23.1" width="31.0" height="5.0" rx="2.5" fill="rgb(115,115,115)" filter="url(#b1)"/>
<rect x="168.2" y="20.1" width="34.0" height="11.0" rx="3.0" fill="rgb(49,49,49)" filter="url(#b2)"/>
<rect x="169.7" y="22.6" width="31.0" height="6.0" rx="3.0" fill="rgb(140,140,140)" filter="url(#b1)"/>
<rect x="209.2" y="19.6" width="34.0" height="12.0" rx="3.0" fill="rgb(67,67,67)" filter="url(#b2)"/>
<rect x="210.7" y="22.1" width="31.0" height="7.0" rx="3.0" fill="rgb(191,191,191)" filter="url(#b1)"/>
<rect x="248.2" y="17.6" width="34.0" height="16.0" rx="3.0" fill="rgb(89,89,89)" filter="url(#b2)"/>
<rect x="249.7" y="20.1" width="31.0" height="11.0" rx="3.0" fill="rgb(255,255,255)" filter="url(#b1)"/>
<rect x="287.2" y="17.6" width="34.0" height="16.0" rx="3.0" fill="rgb(89,89,89)" filter="url(#b2)"/>
<rect x="288.7" y="20.1" width="31.0" height="11.0" rx="3.0" fill="rgb(255,255,255)" filter="url(#b1)"/>
<rect x="327.8" y="18.1" width="34.0" height="15.0" rx="3.0" fill="rgb(85,85,85)" filter="url(#b2)"/>
<rect x="329.3" y="20.6" width="31.0" height="10.0" rx="3.0" fill="rgb(242,242,242)" filter="url(#b1)"/>
<rect x="369.2" y="20.1" width="34.0" height="11.0" rx="3.0" fill="rgb(64,64,64)" filter="url(#b2)"/>
<rect x="370.7" y="22.6" width="31.0" height="6.0" rx="3.0" fill="rgb(184,184,184)" filter="url(#b1)"/>
<rect x="411.2" y="20.1" width="34.0" height="11.0" rx="3.0" fill="rgb(61,61,61)" filter="url(#b2)"/>
<rect x="412.7" y="22.6" width="31.0" height="6.0" rx="3.0" fill="rgb(173,173,173)" filter="url(#b1)"/>
<rect x="452.7" y="19.6" width="34.0" height="12.0" rx="3.0" fill="rgb(71,71,71)" filter="url(#b2)"/>
<rect x="454.2" y="22.1" width="31.0" height="7.0" rx="3.0" fill="rgb(204,204,204)" filter="url(#b1)"/>
</svg>
<rect x="81.8" y="474.4" width="491.4" height="45.3" fill="none" stroke="#111" stroke-width="1.2"/>
<rect x="82.0" y="529.4" width="490.4" height="46.4" fill="#040404"/>
<svg x="82.0" y="529.4" width="490.4" height="46.4" overflow="hidden">
<rect x="374.0" y="-2.4" width="130.0" height="52.0" fill="#101010" opacity="1" filter="url(#b4)"/>
<rect x="7.0" y="23.1" width="34.0" height="10.0" rx="3.0" fill="rgb(54,54,54)" filter="url(#b2)"/>
<rect x="8.5" y="25.6" width="31.0" height="5.0" rx="2.5" fill="rgb(153,153,153)" filter="url(#b1)"/>
<rect x="47.0" y="23.1" width="34.0" height="10.0" rx="3.0" fill="rgb(64,64,64)" filter="url(#b2)"/>
<rect x="48.5" y="25.6" width="31.0" height="5.0" rx="2.5" fill="rgb(184,184,184)" filter="url(#b1)"/>
<rect x="88.0" y="22.1" width="34.0" height="12.0" rx="3.0" fill="rgb(85,85,85)" filter="url(#b2)"/>
<rect x="89.5" y="24.6" width="31.0" height="7.0" rx="3.0" fill="rgb(242,242,242)" filter="url(#b1)"/>
<rect x="129.0" y="22.6" width="34.0" height="11.0" rx="3.0" fill="rgb(71,71,71)" filter="url(#b2)"/>
<rect x="130.5" y="25.1" width="31.0" height="6.0" rx="3.0" fill="rgb(204,204,204)" filter="url(#b1)"/>
<rect x="168.0" y="23.1" width="34.0" height="10.0" rx="3.0" fill="rgb(54,54,54)" filter="url(#b2)"/>
<rect x="169.5" y="25.6" width="31.0" height="5.0" rx="2.5" fill="rgb(153,153,153)" filter="url(#b1)"/>
<rect x="209.0" y="23.1" width="34.0" height="10.0" rx="3.0" fill="rgb(40,40,40)" filter="url(#b2)"/>
<rect x="210.5" y="25.6" width="31.0" height="5.0" rx="2.5" fill="rgb(115,115,115)" filter="url(#b1)"/>
<rect x="248.0" y="23.1" width="34.0" height="10.0" rx="3.0" fill="rgb(54,54,54)" filter="url(#b2)"/>
<rect x="249.5" y="25.6" width="31.0" height="5.0" rx="2.5" fill="rgb(153,153,153)" filter="url(#b1)"/>
<rect x="287.0" y="22.6" width="34.0" height="11.0" rx="3.0" fill="rgb(71,71,71)" filter="url(#b2)"/>
<rect x="288.5" y="25.1" width="31.0" height="6.0" rx="3.0" fill="rgb(204,204,204)" filter="url(#b1)"/>
<rect x="327.6" y="23.1" width="34.0" height="10.0" rx="3.0" fill="rgb(49,49,49)" filter="url(#b2)"/>
<rect x="329.1" y="25.6" width="31.0" height="5.0" rx="2.5" fill="rgb(140,140,140)" filter="url(#b1)"/>
<rect x="369.0" y="21.6" width="34.0" height="13.0" rx="3.0" fill="rgb(82,82,82)" filter="url(#b2)"/>
<rect x="370.5" y="24.1" width="31.0" height="8.0" rx="3.0" fill="rgb(235,235,235)" filter="url(#b1)"/>
<rect x="411.0" y="22.6" width="34.0" height="11.0" rx="3.0" fill="rgb(71,71,71)" filter="url(#b2)"/>
<rect x="412.5" y="25.1" width="31.0" height="6.0" rx="3.0" fill="rgb(204,204,204)" filter="url(#b1)"/>
<rect x="452.5" y="23.1" width="34.0" height="10.0" rx="3.0" fill="rgb(58,58,58)" filter="url(#b2)"/>
<rect x="454.0" y="25.6" width="31.0" height="5.0" rx="2.5" fill="rgb(166,166,166)" filter="url(#b1)"/>
</svg>
<rect x="82.0" y="529.4" width="490.4" height="46.4" fill="none" stroke="#111" stroke-width="1.2"/>
<text x="466.3" y="617.0" font-family='"Liberation Serif", serif' font-size="19.5" font-weight="bold" text-anchor="start" fill="#111" >p27</text>
<line x1="466" y1="620.3" x2="497.5" y2="620.3" stroke="#111" stroke-width="1.8"/>
<text x="149.0" y="654.8" font-family='"Liberation Serif", serif' font-size="17" font-weight="bold" text-anchor="middle" fill="#1a1a1a" >Control</text>
<text x="264.0" y="654.8" font-family='"Liberation Serif", serif' font-size="17" font-weight="bold" text-anchor="middle" fill="#1a1a1a" >C-PC</text>
<text x="369.6" y="654.8" font-family='"Liberation Serif", serif' font-size="17" font-weight="bold" text-anchor="middle" fill="#1a1a1a" >DMBA</text>
<text x="479.0" y="654.8" font-family='"Liberation Serif", serif' font-size="17" font-weight="bold" text-anchor="middle" fill="#1a1a1a" >DMBA + C-PC</text>
<line x1="100.2" y1="662.6" x2="201.0" y2="662.6" stroke="#222" stroke-width="1"/>
<path d="M97.2,662.6 l5,-2.2 v4.4 z M204.0,662.6 l-5,-2.2 v4.4 z" fill="#222"/>
<line x1="215.8" y1="662.6" x2="316.6" y2="662.6" stroke="#222" stroke-width="1"/>
<path d="M212.8,662.6 l5,-2.2 v4.4 z M319.6,662.6 l-5,-2.2 v4.4 z" fill="#222"/>
<line x1="323.5" y1="662.6" x2="422.5" y2="662.6" stroke="#222" stroke-width="1"/>
<path d="M320.5,662.6 l5,-2.2 v4.4 z M425.5,662.6 l-5,-2.2 v4.4 z" fill="#222"/>
<line x1="429.4" y1="662.6" x2="530.0" y2="662.6" stroke="#222" stroke-width="1"/>
<path d="M426.4,662.6 l5,-2.2 v4.4 z M533.0,662.6 l-5,-2.2 v4.4 z" fill="#222"/>
<text x="11.8" y="710.6" font-family='"Liberation Serif", serif' font-size="16" font-weight="bold" text-anchor="start" fill="#1a1a1a" >1 week</text>
<text x="11.8" y="758.2" font-family='"Liberation Serif", serif' font-size="16" font-weight="bold" text-anchor="start" fill="#1a1a1a" >1 month</text>
<text x="11.8" y="809.6" font-family='"Liberation Serif", serif' font-size="16" font-weight="bold" text-anchor="start" fill="#1a1a1a" >4 month</text>
<text x="11.8" y="863.5" font-family='"Liberation Serif", serif' font-size="16" font-weight="bold" text-anchor="start" fill="#1a1a1a" >β-Actin</text>
<rect x="81.1" y="673.7" width="466.1" height="53.1" fill="#e2e2e2"/>
<svg x="81.1" y="673.7" width="466.1" height="53.1" overflow="hidden">
<rect x="15.2" y="18.3" width="35.0" height="10.0" rx="17.5" fill="rgb(206,206,206)" filter="url(#b3)"/>
<rect x="16.2" y="20.3" width="33.0" height="6.0" rx="16.5" fill="rgb(115,115,115)" filter="url(#b15)"/>
<rect x="49.4" y="17.9" width="34.0" height="10.0" rx="17.0" fill="rgb(218,218,218)" filter="url(#b3)"/>
<rect x="50.4" y="19.9" width="32.0" height="6.0" rx="16.0" fill="rgb(148,148,148)" filter="url(#b15)"/>
<rect x="88.9" y="18.1" width="29.0" height="9.0" rx="14.5" fill="rgb(224,224,224)" filter="url(#b3)"/>
<rect x="89.9" y="20.1" width="27.0" height="5.0" rx="13.5" fill="rgb(166,166,166)" filter="url(#b15)"/>
<rect x="131.1" y="16.7" width="31.0" height="11.0" rx="15.5" fill="rgb(191,191,191)" filter="url(#b3)"/>
<rect x="132.1" y="18.7" width="29.0" height="7.0" rx="14.5" fill="rgb(71,71,71)" filter="url(#b15)"/>
<rect x="161.4" y="14.8" width="35.0" height="14.0" rx="17.5" fill="rgb(166,166,166)" filter="url(#b3)"/>
<rect x="162.4" y="16.8" width="33.0" height="10.0" rx="16.5" fill="rgb(0,0,0)" filter="url(#b15)"/>
<rect x="201.9" y="17.0" width="34.0" height="9.0" rx="17.0" fill="rgb(224,224,224)" filter="url(#b3)"/>
<rect x="202.9" y="19.0" width="32.0" height="5.0" rx="16.0" fill="rgb(166,166,166)" filter="url(#b15)"/>
<rect x="237.9" y="15.6" width="32.0" height="11.0" rx="16.0" fill="rgb(197,197,197)" filter="url(#b3)"/>
<rect x="238.9" y="17.6" width="30.0" height="7.0" rx="15.0" fill="rgb(89,89,89)" filter="url(#b15)"/>
<rect x="273.9" y="14.3" width="36.0" height="13.0" rx="18.0" fill="rgb(166,166,166)" filter="url(#b3)"/>
<rect x="274.9" y="16.3" width="34.0" height="9.0" rx="17.0" fill="rgb(0,0,0)" filter="url(#b15)"/>
<rect x="313.1" y="14.4" width="33.0" height="12.0" rx="16.5" fill="rgb(179,179,179)" filter="url(#b3)"/>
<rect x="314.1" y="16.4" width="31.0" height="8.0" rx="15.5" fill="rgb(38,38,38)" filter="url(#b15)"/>
<rect x="347.9" y="15.0" width="32.0" height="10.0" rx="16.0" fill="rgb(201,201,201)" filter="url(#b3)"/>
<rect x="348.9" y="17.0" width="30.0" height="6.0" rx="15.0" fill="rgb(102,102,102)" filter="url(#b15)"/>
<rect x="381.9" y="12.2" width="38.0" height="15.0" rx="19.0" fill="rgb(166,166,166)" filter="url(#b3)"/>
<rect x="382.9" y="14.2" width="36.0" height="11.0" rx="18.0" fill="rgb(0,0,0)" filter="url(#b15)"/>
<rect x="419.4" y="12.8" width="31.0" height="13.0" rx="15.5" fill="rgb(170,170,170)" filter="url(#b3)"/>
<rect x="420.4" y="14.8" width="29.0" height="9.0" rx="14.5" fill="rgb(13,13,13)" filter="url(#b15)"/>
<rect x="0" y="0" width="466.1" height="53.1" filter="url(#noise)" opacity="0.2"/>
</svg>
<rect x="81.1" y="673.7" width="466.1" height="53.1" fill="none" stroke="#666" stroke-width="1.2"/>
<rect x="81.3" y="734.2" width="465.9" height="42.4" fill="#f2f2f2"/>
<svg x="81.3" y="734.2" width="465.9" height="42.4" overflow="hidden">
<rect x="16.2" y="1.8" width="27.0" height="22.0" rx="3.0" fill="rgb(204,204,204)" filter="url(#b3)"/>
<rect x="16.2" y="5.8" width="27.0" height="6.0" rx="3.0" fill="rgb(224,224,224)" filter="url(#b2)"/>
<rect x="16.2" y="16.3" width="27.0" height="9.0" rx="3.0" fill="rgb(171,171,171)" filter="url(#b2)"/>
<rect x="16.2" y="22.8" width="27.0" height="10.0" rx="4.0" fill="rgb(115,115,115)" filter="url(#b2)"/>
<rect x="50.7" y="1.8" width="26.0" height="22.0" rx="3.0" fill="rgb(204,204,204)" filter="url(#b3)"/>
<rect x="50.7" y="5.8" width="26.0" height="6.0" rx="3.0" fill="rgb(224,224,224)" filter="url(#b2)"/>
<rect x="50.7" y="16.3" width="26.0" height="9.0" rx="3.0" fill="rgb(171,171,171)" filter="url(#b2)"/>
<rect x="50.7" y="22.8" width="26.0" height="10.0" rx="4.0" fill="rgb(115,115,115)" filter="url(#b2)"/>
<rect x="84.2" y="1.8" width="29.0" height="22.0" rx="3.0" fill="rgb(204,204,204)" filter="url(#b3)"/>
<rect x="84.2" y="5.8" width="29.0" height="6.0" rx="3.0" fill="rgb(224,224,224)" filter="url(#b2)"/>
<rect x="84.2" y="16.3" width="29.0" height="9.0" rx="3.0" fill="rgb(173,173,173)" filter="url(#b2)"/>
<rect x="84.2" y="22.8" width="29.0" height="10.0" rx="4.0" fill="rgb(128,128,128)" filter="url(#b2)"/>
<rect x="122.2" y="1.8" width="28.0" height="22.0" rx="3.0" fill="rgb(204,204,204)" filter="url(#b3)"/>
<rect x="122.2" y="5.8" width="28.0" height="6.0" rx="3.0" fill="rgb(224,224,224)" filter="url(#b2)"/>
<rect x="122.2" y="16.3" width="28.0" height="9.0" rx="3.0" fill="rgb(156,156,156)" filter="url(#b2)"/>
<rect x="122.2" y="22.8" width="28.0" height="10.0" rx="4.0" fill="rgb(38,38,38)" filter="url(#b2)"/>
<rect x="157.9" y="1.8" width="29.0" height="22.0" rx="3.0" fill="rgb(204,204,204)" filter="url(#b3)"/>
<rect x="157.9" y="5.8" width="29.0" height="6.0" rx="3.0" fill="rgb(224,224,224)" filter="url(#b2)"/>
<rect x="157.9" y="16.3" width="29.0" height="9.0" rx="3.0" fill="rgb(153,153,153)" filter="url(#b2)"/>
<rect x="157.9" y="22.8" width="29.0" height="10.0" rx="4.0" fill="rgb(25,25,25)" filter="url(#b2)"/>
<rect x="195.8" y="1.8" width="27.0" height="22.0" rx="3.0" fill="rgb(204,204,204)" filter="url(#b3)"/>
<rect x="195.8" y="5.8" width="27.0" height="6.0" rx="3.0" fill="rgb(224,224,224)" filter="url(#b2)"/>
<rect x="195.8" y="16.3" width="27.0" height="9.0" rx="3.0" fill="rgb(163,163,163)" filter="url(#b2)"/>
<rect x="195.8" y="22.8" width="27.0" height="10.0" rx="4.0" fill="rgb(77,77,77)" filter="url(#b2)"/>
<rect x="233.2" y="1.8" width="29.0" height="22.0" rx="3.0" fill="rgb(204,204,204)" filter="url(#b3)"/>
<rect x="233.2" y="5.8" width="29.0" height="6.0" rx="3.0" fill="rgb(224,224,224)" filter="url(#b2)"/>
<rect x="233.2" y="16.3" width="29.0" height="9.0" rx="3.0" fill="rgb(171,171,171)" filter="url(#b2)"/>
<rect x="233.2" y="22.8" width="29.0" height="10.0" rx="4.0" fill="rgb(115,115,115)" filter="url(#b2)"/>
<rect x="271.7" y="1.8" width="28.0" height="22.0" rx="3.0" fill="rgb(204,204,204)" filter="url(#b3)"/>
<rect x="271.7" y="5.8" width="28.0" height="6.0" rx="3.0" fill="rgb(224,224,224)" filter="url(#b2)"/>
<rect x="271.7" y="16.3" width="28.0" height="9.0" rx="3.0" fill="rgb(153,153,153)" filter="url(#b2)"/>
<rect x="271.7" y="22.8" width="28.0" height="10.0" rx="4.0" fill="rgb(25,25,25)" filter="url(#b2)"/>
<rect x="308.2" y="1.8" width="27.0" height="22.0" rx="3.0" fill="rgb(204,204,204)" filter="url(#b3)"/>
<rect x="308.2" y="5.8" width="27.0" height="6.0" rx="3.0" fill="rgb(224,224,224)" filter="url(#b2)"/>
<rect x="308.2" y="16.3" width="27.0" height="9.0" rx="3.0" fill="rgb(156,156,156)" filter="url(#b2)"/>
<rect x="308.2" y="22.8" width="27.0" height="10.0" rx="4.0" fill="rgb(38,38,38)" filter="url(#b2)"/>
<rect x="344.3" y="1.8" width="30.0" height="22.0" rx="3.0" fill="rgb(204,204,204)" filter="url(#b3)"/>
<rect x="344.3" y="5.8" width="30.0" height="6.0" rx="3.0" fill="rgb(224,224,224)" filter="url(#b2)"/>
<rect x="344.3" y="16.3" width="30.0" height="9.0" rx="3.0" fill="rgb(163,163,163)" filter="url(#b2)"/>
<rect x="344.3" y="22.8" width="30.0" height="10.0" rx="4.0" fill="rgb(77,77,77)" filter="url(#b2)"/>
<rect x="381.7" y="1.8" width="30.0" height="22.0" rx="3.0" fill="rgb(204,204,204)" filter="url(#b3)"/>
<rect x="381.7" y="5.8" width="30.0" height="6.0" rx="3.0" fill="rgb(224,224,224)" filter="url(#b2)"/>
<rect x="381.7" y="16.3" width="30.0" height="9.0" rx="3.0" fill="rgb(173,173,173)" filter="url(#b2)"/>
<rect x="381.7" y="22.8" width="30.0" height="10.0" rx="4.0" fill="rgb(128,128,128)" filter="url(#b2)"/>
<rect x="420.7" y="1.8" width="30.0" height="22.0" rx="3.0" fill="rgb(204,204,204)" filter="url(#b3)"/>
<rect x="420.7" y="5.8" width="30.0" height="6.0" rx="3.0" fill="rgb(224,224,224)" filter="url(#b2)"/>
<rect x="420.7" y="16.3" width="30.0" height="9.0" rx="3.0" fill="rgb(168,168,168)" filter="url(#b2)"/>
<rect x="420.7" y="22.8" width="30.0" height="10.0" rx="4.0" fill="rgb(102,102,102)" filter="url(#b2)"/>
</svg>
<rect x="81.3" y="734.2" width="465.9" height="42.4" fill="none" stroke="#666" stroke-width="1.2"/>
<rect x="82.6" y="783.5" width="466.7" height="52.7" fill="#f7f7f7"/>
<svg x="82.6" y="783.5" width="466.7" height="52.7" overflow="hidden">
<rect x="6.4" y="18.8" width="28.0" height="9.0" rx="4.0" fill="rgb(20,20,20)" filter="url(#b15)"/>
<rect x="44.9" y="17.8" width="30.0" height="11.0" rx="4.0" fill="rgb(0,0,0)" filter="url(#b15)"/>
<rect x="83.7" y="19.8" width="26.0" height="7.0" rx="3.5" fill="rgb(46,46,46)" filter="url(#b15)"/>
<rect x="119.9" y="19.3" width="29.0" height="8.0" rx="4.0" fill="rgb(38,38,38)" filter="url(#b15)"/>
<rect x="161.5" y="19.3" width="27.0" height="8.0" rx="4.0" fill="rgb(56,56,56)" filter="url(#b15)"/>
<rect x="199.6" y="19.8" width="27.0" height="7.0" rx="3.5" fill="rgb(140,140,140)" filter="url(#b15)"/>
<rect x="238.9" y="20.3" width="27.0" height="6.0" rx="3.0" fill="rgb(204,204,204)" filter="url(#b15)"/>
<rect x="277.9" y="20.3" width="27.0" height="6.0" rx="3.0" fill="rgb(178,178,178)" filter="url(#b15)"/>
<rect x="314.9" y="20.3" width="27.0" height="6.0" rx="3.0" fill="rgb(217,217,217)" filter="url(#b15)"/>
<rect x="350.9" y="18.8" width="30.0" height="9.0" rx="4.0" fill="rgb(31,31,31)" filter="url(#b15)"/>
<rect x="391.1" y="19.3" width="30.0" height="8.0" rx="4.0" fill="rgb(31,31,31)" filter="url(#b15)"/>
<rect x="432.4" y="20.3" width="30.0" height="6.0" rx="3.0" fill="rgb(153,153,153)" filter="url(#b15)"/>
<rect x="453.4" y="18.5" width="8.0" height="6.0" rx="3.0" fill="rgb(25,25,25)" filter="url(#b15)"/>
</svg>
<rect x="82.6" y="783.5" width="466.7" height="52.7" fill="none" stroke="#666" stroke-width="1.2"/>
<rect x="81.3" y="845.2" width="469.0" height="43.0" fill="#b8b8b8"/>
<svg x="81.3" y="845.2" width="469.0" height="43.0" overflow="hidden">
<rect x="0.0" y="0.0" width="230.0" height="43.0" fill="#b0b0b0" opacity="1" filter="url(#b4)"/>
<rect x="218.7" y="0.0" width="150.0" height="43.0" fill="#acacac" opacity="1" filter="url(#b4)"/>
<rect x="8.7" y="12.8" width="26.0" height="30.0" fill="#a2a2a2" opacity="1" filter="url(#b3)"/>
<rect x="7.7" y="7.3" width="30.0" height="20.0" rx="4.0" fill="#b0b0b0" filter="url(#b3)"/>
<rect x="6.7" y="1.8" width="32.0" height="11.0" rx="5.0" fill="rgb(97,97,97)" filter="url(#b2)"/>
<rect x="46.2" y="9.3" width="30.0" height="20.0" rx="4.0" fill="#b0b0b0" filter="url(#b3)"/>
<rect x="45.2" y="3.8" width="32.0" height="11.0" rx="5.0" fill="rgb(115,115,115)" filter="url(#b2)"/>
<rect x="83.7" y="9.8" width="30.0" height="20.0" rx="4.0" fill="#b0b0b0" filter="url(#b3)"/>
<rect x="82.7" y="4.3" width="32.0" height="11.0" rx="5.0" fill="rgb(102,102,102)" filter="url(#b2)"/>
<rect x="120.7" y="9.8" width="30.0" height="20.0" rx="4.0" fill="#b0b0b0" filter="url(#b3)"/>
<rect x="119.7" y="4.3" width="32.0" height="11.0" rx="5.0" fill="rgb(97,97,97)" filter="url(#b2)"/>
<rect x="157.3" y="10.3" width="30.0" height="20.0" rx="4.0" fill="#b0b0b0" filter="url(#b3)"/>
<rect x="156.3" y="4.8" width="32.0" height="11.0" rx="5.0" fill="rgb(97,97,97)" filter="url(#b2)"/>
<rect x="193.1" y="10.8" width="30.0" height="20.0" rx="4.0" fill="#b0b0b0" filter="url(#b3)"/>
<rect x="192.1" y="5.3" width="32.0" height="11.0" rx="5.0" fill="rgb(102,102,102)" filter="url(#b2)"/>
<rect x="229.5" y="13.8" width="30.0" height="20.0" rx="4.0" fill="#b0b0b0" filter="url(#b3)"/>
<rect x="228.5" y="8.3" width="32.0" height="11.0" rx="5.0" fill="rgb(102,102,102)" filter="url(#b2)"/>
<rect x="266.4" y="14.8" width="30.0" height="20.0" rx="4.0" fill="#b0b0b0" filter="url(#b3)"/>
<rect x="265.4" y="9.3" width="32.0" height="11.0" rx="5.0" fill="rgb(97,97,97)" filter="url(#b2)"/>
<rect x="304.7" y="14.8" width="30.0" height="20.0" rx="4.0" fill="#b0b0b0" filter="url(#b3)"/>
<rect x="303.7" y="9.3" width="32.0" height="11.0" rx="5.0" fill="rgb(115,115,115)" filter="url(#b2)"/>
<rect x="340.5" y="14.8" width="30.0" height="20.0" rx="4.0" fill="#b0b0b0" filter="url(#b3)"/>
<rect x="339.5" y="9.3" width="32.0" height="11.0" rx="5.0" fill="rgb(107,107,107)" filter="url(#b2)"/>
<rect x="377.3" y="14.3" width="30.0" height="20.0" rx="4.0" fill="#b0b0b0" filter="url(#b3)"/>
<rect x="376.3" y="8.8" width="32.0" height="11.0" rx="5.0" fill="rgb(107,107,107)" filter="url(#b2)"/>
<rect x="419.7" y="11.8" width="30.0" height="20.0" rx="4.0" fill="#b0b0b0" filter="url(#b3)"/>
<rect x="418.7" y="6.3" width="32.0" height="11.0" rx="5.0" fill="rgb(140,140,140)" filter="url(#b2)"/>
<rect x="0" y="0" width="469.0" height="43.0" filter="url(#noise3)" opacity="0.12"/>
</svg>
<rect x="81.3" y="845.2" width="469.0" height="43.0" fill="none" stroke="#555" stroke-width="1.2"/>
<text x="150.0" y="963.9" font-family='"Liberation Serif", serif' font-size="17" font-weight="bold" text-anchor="middle" fill="#1a1a1a" >Control</text>
<text x="273.9" y="963.9" font-family='"Liberation Serif", serif' font-size="17" font-weight="bold" text-anchor="middle" fill="#1a1a1a" >C-PC</text>
<text x="387.6" y="963.9" font-family='"Liberation Serif", serif' font-size="17" font-weight="bold" text-anchor="middle" fill="#1a1a1a" >DMBA</text>
<text x="505.9" y="963.9" font-family='"Liberation Serif", serif' font-size="17" font-weight="bold" text-anchor="middle" fill="#1a1a1a" >DMBA + C-PC</text>
<line x1="90.2" y1="975.4" x2="201.0" y2="975.4" stroke="#222" stroke-width="1"/>
<path d="M87.2,975.4 l5,-2.2 v4.4 z M204.0,975.4 l-5,-2.2 v4.4 z" fill="#222"/>
<line x1="212.7" y1="975.4" x2="326.8" y2="975.4" stroke="#222" stroke-width="1"/>
<path d="M209.7,975.4 l5,-2.2 v4.4 z M329.8,975.4 l-5,-2.2 v4.4 z" fill="#222"/>
<line x1="339.0" y1="975.4" x2="445.2" y2="975.4" stroke="#222" stroke-width="1"/>
<path d="M336.0,975.4 l5,-2.2 v4.4 z M448.2,975.4 l-5,-2.2 v4.4 z" fill="#222"/>
<line x1="457.5" y1="975.4" x2="568.3" y2="975.4" stroke="#222" stroke-width="1"/>
<path d="M454.5,975.4 l5,-2.2 v4.4 z M571.3,975.4 l-5,-2.2 v4.4 z" fill="#222"/>
<text x="14.0" y="1013.7" font-family='"Liberation Serif", serif' font-size="16" font-weight="bold" text-anchor="start" fill="#1a1a1a" >1 week</text>
<text x="14.0" y="1061.0" font-family='"Liberation Serif", serif' font-size="16" font-weight="bold" text-anchor="start" fill="#1a1a1a" >1 month</text>
<text x="14.0" y="1106.5" font-family='"Liberation Serif", serif' font-size="16" font-weight="bold" text-anchor="start" fill="#1a1a1a" >4 month</text>
<text x="14.0" y="1150.8" font-family='"Liberation Serif", serif' font-size="16" font-weight="bold" text-anchor="start" fill="#1a1a1a" >β-Actin</text>
<rect x="83.7" y="989.3" width="488.7" height="42.2" fill="url(#gw)"/>
<svg x="83.7" y="989.3" width="488.7" height="42.2" overflow="hidden">
<rect x="40.0" y="-4.3" width="6.0" height="29.0" fill="#262626" opacity="1" filter="url(#b15)"/>
<rect x="80.0" y="-4.3" width="6.0" height="29.0" fill="#262626" opacity="1" filter="url(#b15)"/>
<rect x="120.3" y="-4.3" width="6.0" height="29.0" fill="#262626" opacity="1" filter="url(#b15)"/>
<rect x="160.8" y="-4.3" width="6.0" height="29.0" fill="#262626" opacity="1" filter="url(#b15)"/>
<rect x="201.7" y="-4.3" width="6.0" height="29.0" fill="#262626" opacity="1" filter="url(#b15)"/>
<rect x="241.7" y="-4.3" width="6.0" height="29.0" fill="#262626" opacity="1" filter="url(#b15)"/>
<rect x="282.1" y="-4.3" width="6.0" height="29.0" fill="#262626" opacity="1" filter="url(#b15)"/>
<rect x="322.6" y="-4.3" width="6.0" height="29.0" fill="#262626" opacity="1" filter="url(#b15)"/>
<rect x="363.1" y="-4.3" width="6.0" height="29.0" fill="#262626" opacity="1" filter="url(#b15)"/>
<rect x="404.6" y="-4.3" width="6.0" height="29.0" fill="#262626" opacity="1" filter="url(#b15)"/>
<rect x="446.1" y="-4.3" width="6.0" height="29.0" fill="#262626" opacity="1" filter="url(#b15)"/>
<rect x="-2.7" y="-4.3" width="5.0" height="29.0" fill="#262626" opacity="1" filter="url(#b15)"/>
<rect x="486.3" y="-4.3" width="5.0" height="29.0" fill="#262626" opacity="1" filter="url(#b15)"/>
<rect x="210.0" y="0.0" width="30.0" height="14.0" fill="#ffffff" opacity="0.18" filter="url(#b2)"/>
<rect x="249.3" y="0.0" width="30.0" height="14.0" fill="#ffffff" opacity="0.28" filter="url(#b2)"/>
<rect x="290.8" y="0.0" width="30.0" height="14.0" fill="#ffffff" opacity="0.22" filter="url(#b2)"/>
<rect x="330.3" y="0.0" width="30.0" height="14.0" fill="#ffffff" opacity="0.18" filter="url(#b2)"/>
<rect x="371.8" y="0.0" width="30.0" height="14.0" fill="#ffffff" opacity="0.18" filter="url(#b2)"/>
<rect x="413.3" y="0.0" width="30.0" height="14.0" fill="#ffffff" opacity="0.18" filter="url(#b2)"/>
<rect x="454.8" y="0.0" width="30.0" height="14.0" fill="#ffffff" opacity="0.15" filter="url(#b2)"/>
<rect x="6.1" y="14.2" width="34.0" height="9.0" rx="3.0" fill="rgb(94,94,94)" filter="url(#b2)" style="mix-blend-mode:lighten"/>
<rect x="7.6" y="16.7" width="31.0" height="4.0" rx="2.0" fill="rgb(209,209,209)" filter="url(#b1)" style="mix-blend-mode:lighten"/>
<rect x="45.8" y="14.4" width="34.0" height="9.0" rx="3.0" fill="rgb(67,67,67)" filter="url(#b2)" style="mix-blend-mode:lighten"/>
<rect x="47.3" y="16.9" width="31.0" height="4.0" rx="2.0" fill="rgb(148,148,148)" filter="url(#b1)" style="mix-blend-mode:lighten"/>
<rect x="86.3" y="14.5" width="34.0" height="9.0" rx="3.0" fill="rgb(60,60,60)" filter="url(#b2)" style="mix-blend-mode:lighten"/>
<rect x="87.8" y="17.0" width="31.0" height="4.0" rx="2.0" fill="rgb(133,133,133)" filter="url(#b1)" style="mix-blend-mode:lighten"/>
<rect x="126.3" y="14.7" width="34.0" height="9.0" rx="3.0" fill="rgb(60,60,60)" filter="url(#b2)" style="mix-blend-mode:lighten"/>
<rect x="127.8" y="17.2" width="31.0" height="4.0" rx="2.0" fill="rgb(133,133,133)" filter="url(#b1)" style="mix-blend-mode:lighten"/>
<rect x="167.3" y="14.9" width="34.0" height="9.0" rx="3.0" fill="rgb(98,98,98)" filter="url(#b2)" style="mix-blend-mode:lighten"/>
<rect x="168.8" y="17.4" width="31.0" height="4.0" rx="2.0" fill="rgb(217,217,217)" filter="url(#b1)" style="mix-blend-mode:lighten"/>
<rect x="208.0" y="15.0" width="34.0" height="9.0" rx="3.0" fill="rgb(67,67,67)" filter="url(#b2)" style="mix-blend-mode:lighten"/>
<rect x="209.5" y="17.5" width="31.0" height="4.0" rx="2.0" fill="rgb(148,148,148)" filter="url(#b1)" style="mix-blend-mode:lighten"/>
<rect x="247.3" y="15.2" width="34.0" height="9.0" rx="3.0" fill="rgb(101,101,101)" filter="url(#b2)" style="mix-blend-mode:lighten"/>
<rect x="248.8" y="17.7" width="31.0" height="4.0" rx="2.0" fill="rgb(224,224,224)" filter="url(#b1)" style="mix-blend-mode:lighten"/>
<rect x="288.8" y="15.3" width="34.0" height="9.0" rx="3.0" fill="rgb(69,69,69)" filter="url(#b2)" style="mix-blend-mode:lighten"/>
<rect x="290.3" y="17.8" width="31.0" height="4.0" rx="2.0" fill="rgb(153,153,153)" filter="url(#b1)" style="mix-blend-mode:lighten"/>
<rect x="328.3" y="15.5" width="34.0" height="9.0" rx="3.0" fill="rgb(71,71,71)" filter="url(#b2)" style="mix-blend-mode:lighten"/>
<rect x="329.8" y="18.0" width="31.0" height="4.0" rx="2.0" fill="rgb(158,158,158)" filter="url(#b1)" style="mix-blend-mode:lighten"/>
<rect x="369.8" y="15.7" width="34.0" height="9.0" rx="3.0" fill="rgb(57,57,57)" filter="url(#b2)" style="mix-blend-mode:lighten"/>
<rect x="371.3" y="18.2" width="31.0" height="4.0" rx="2.0" fill="rgb(128,128,128)" filter="url(#b1)" style="mix-blend-mode:lighten"/>
<rect x="411.3" y="15.8" width="34.0" height="9.0" rx="3.0" fill="rgb(94,94,94)" filter="url(#b2)" style="mix-blend-mode:lighten"/>
<rect x="412.8" y="18.3" width="31.0" height="4.0" rx="2.0" fill="rgb(209,209,209)" filter="url(#b1)" style="mix-blend-mode:lighten"/>
<rect x="452.8" y="16.0" width="34.0" height="9.0" rx="3.0" fill="rgb(80,80,80)" filter="url(#b2)" style="mix-blend-mode:lighten"/>
<rect x="454.3" y="18.5" width="31.0" height="4.0" rx="2.0" fill="rgb(178,178,178)" filter="url(#b1)" style="mix-blend-mode:lighten"/>
</svg>
<rect x="83.7" y="989.3" width="488.7" height="42.2" fill="none" stroke="#444" stroke-width="1.2"/>
<rect x="83.7" y="1038.2" width="490.1" height="36.8" fill="#080808"/>
<svg x="83.7" y="1038.2" width="490.1" height="36.8" overflow="hidden">
<rect x="6.1" y="12.3" width="34.0" height="12.0" rx="3.0" fill="rgb(89,89,89)" filter="url(#b2)"/>
<rect x="7.6" y="14.8" width="31.0" height="7.0" rx="3.0" fill="rgb(255,255,255)" filter="url(#b1)"/>
<rect x="45.8" y="12.3" width="34.0" height="13.0" rx="3.0" fill="rgb(89,89,89)" filter="url(#b2)"/>
<rect x="47.3" y="14.8" width="31.0" height="8.0" rx="3.0" fill="rgb(255,255,255)" filter="url(#b1)"/>
<rect x="86.3" y="12.3" width="34.0" height="12.0" rx="3.0" fill="rgb(89,89,89)" filter="url(#b2)"/>
<rect x="87.8" y="14.8" width="31.0" height="7.0" rx="3.0" fill="rgb(255,255,255)" filter="url(#b1)"/>
<rect x="126.3" y="11.8" width="34.0" height="12.0" rx="3.0" fill="rgb(89,89,89)" filter="url(#b2)"/>
<rect x="127.8" y="14.3" width="31.0" height="7.0" rx="3.0" fill="rgb(255,255,255)" filter="url(#b1)"/>
<rect x="167.3" y="10.3" width="34.0" height="11.0" rx="3.0" fill="rgb(89,89,89)" filter="url(#b2)"/>
<rect x="168.8" y="12.8" width="31.0" height="6.0" rx="3.0" fill="rgb(255,255,255)" filter="url(#b1)"/>
<rect x="208.0" y="9.8" width="34.0" height="12.0" rx="3.0" fill="rgb(89,89,89)" filter="url(#b2)"/>
<rect x="209.5" y="12.3" width="31.0" height="7.0" rx="3.0" fill="rgb(255,255,255)" filter="url(#b1)"/>
<rect x="247.3" y="10.3" width="34.0" height="11.0" rx="3.0" fill="rgb(71,71,71)" filter="url(#b2)"/>
<rect x="248.8" y="12.8" width="31.0" height="6.0" rx="3.0" fill="rgb(204,204,204)" filter="url(#b1)"/>
<rect x="288.8" y="11.3" width="34.0" height="9.0" rx="3.0" fill="rgb(49,49,49)" filter="url(#b2)"/>
<rect x="290.3" y="13.8" width="31.0" height="4.0" rx="2.0" fill="rgb(140,140,140)" filter="url(#b1)"/>
<rect x="328.3" y="10.3" width="34.0" height="10.0" rx="3.0" fill="rgb(67,67,67)" filter="url(#b2)"/>
<rect x="329.8" y="12.8" width="31.0" height="5.0" rx="2.5" fill="rgb(191,191,191)" filter="url(#b1)"/>
<rect x="369.8" y="8.8" width="34.0" height="12.0" rx="3.0" fill="rgb(89,89,89)" filter="url(#b2)"/>
<rect x="371.3" y="11.3" width="31.0" height="7.0" rx="3.0" fill="rgb(255,255,255)" filter="url(#b1)"/>
<rect x="411.3" y="7.8" width="34.0" height="13.0" rx="3.0" fill="rgb(89,89,89)" filter="url(#b2)"/>
<rect x="412.8" y="10.3" width="31.0" height="8.0" rx="3.0" fill="rgb(255,255,255)" filter="url(#b1)"/>
<rect x="452.8" y="8.3" width="34.0" height="12.0" rx="3.0" fill="rgb(89,89,89)" filter="url(#b2)"/>
<rect x="454.3" y="10.8" width="31.0" height="7.0" rx="3.0" fill="rgb(255,255,255)" filter="url(#b1)"/>
</svg>
<rect x="83.7" y="1038.2" width="490.1" height="36.8" fill="none" stroke="#222" stroke-width="1.2"/>
<rect x="82.6" y="1081.8" width="491.2" height="40.6" fill="#040404"/>
<svg x="82.6" y="1081.8" width="491.2" height="40.6" overflow="hidden">
<rect x="124.4" y="0.0" width="160.0" height="20.0" fill="#0e0e0e" opacity="1" filter="url(#b4)"/>
<rect x="7.2" y="21.7" width="34.0" height="10.0" rx="3.0" fill="rgb(76,76,76)" filter="url(#b2)"/>
<rect x="8.7" y="24.2" width="31.0" height="5.0" rx="2.5" fill="rgb(217,217,217)" filter="url(#b1)"/>
<rect x="46.9" y="21.7" width="34.0" height="10.0" rx="3.0" fill="rgb(71,71,71)" filter="url(#b2)"/>
<rect x="48.4" y="24.2" width="31.0" height="5.0" rx="2.5" fill="rgb(204,204,204)" filter="url(#b1)"/>
<rect x="87.4" y="21.2" width="34.0" height="11.0" rx="3.0" fill="rgb(85,85,85)" filter="url(#b2)"/>
<rect x="88.9" y="23.7" width="31.0" height="6.0" rx="3.0" fill="rgb(242,242,242)" filter="url(#b1)"/>
<rect x="127.4" y="21.7" width="34.0" height="10.0" rx="3.0" fill="rgb(76,76,76)" filter="url(#b2)"/>
<rect x="128.9" y="24.2" width="31.0" height="5.0" rx="2.5" fill="rgb(217,217,217)" filter="url(#b1)"/>
<rect x="168.4" y="20.7" width="34.0" height="12.0" rx="3.0" fill="rgb(85,85,85)" filter="url(#b2)"/>
<rect x="169.9" y="23.2" width="31.0" height="7.0" rx="3.0" fill="rgb(242,242,242)" filter="url(#b1)"/>
<rect x="209.1" y="21.2" width="34.0" height="11.0" rx="3.0" fill="rgb(80,80,80)" filter="url(#b2)"/>
<rect x="210.6" y="23.7" width="31.0" height="6.0" rx="3.0" fill="rgb(230,230,230)" filter="url(#b1)"/>
<rect x="248.4" y="21.7" width="34.0" height="10.0" rx="3.0" fill="rgb(73,73,73)" filter="url(#b2)"/>
<rect x="249.9" y="24.2" width="31.0" height="5.0" rx="2.5" fill="rgb(209,209,209)" filter="url(#b1)"/>
<rect x="289.9" y="21.7" width="34.0" height="10.0" rx="3.0" fill="rgb(64,64,64)" filter="url(#b2)"/>
<rect x="291.4" y="24.2" width="31.0" height="5.0" rx="2.5" fill="rgb(184,184,184)" filter="url(#b1)"/>
<rect x="329.4" y="22.7" width="34.0" height="8.0" rx="3.0" fill="rgb(36,36,36)" filter="url(#b2)"/>
<rect x="330.9" y="25.2" width="31.0" height="3.0" rx="1.5" fill="rgb(102,102,102)" filter="url(#b1)"/>
<rect x="370.9" y="19.7" width="34.0" height="14.0" rx="3.0" fill="rgb(89,89,89)" filter="url(#b2)"/>
<rect x="372.4" y="22.2" width="31.0" height="9.0" rx="3.0" fill="rgb(255,255,255)" filter="url(#b1)"/>
<rect x="412.4" y="21.2" width="34.0" height="11.0" rx="3.0" fill="rgb(79,79,79)" filter="url(#b2)"/>
<rect x="413.9" y="23.7" width="31.0" height="6.0" rx="3.0" fill="rgb(224,224,224)" filter="url(#b1)"/>
<rect x="453.9" y="21.2" width="34.0" height="11.0" rx="3.0" fill="rgb(80,80,80)" filter="url(#b2)"/>
<rect x="455.4" y="23.7" width="31.0" height="6.0" rx="3.0" fill="rgb(230,230,230)" filter="url(#b1)"/>
</svg>
<rect x="82.6" y="1081.8" width="491.2" height="40.6" fill="none" stroke="#222" stroke-width="1.2"/>
<rect x="82.9" y="1129.2" width="490.9" height="46.4" fill="#050505"/>
<svg x="82.9" y="1129.2" width="490.9" height="46.4" overflow="hidden">
<rect x="6.9" y="23.3" width="34.0" height="10.0" rx="3.0" fill="rgb(49,49,49)" filter="url(#b2)"/>
<rect x="8.4" y="25.8" width="31.0" height="5.0" rx="2.5" fill="rgb(140,140,140)" filter="url(#b1)"/>
<rect x="46.6" y="23.3" width="34.0" height="10.0" rx="3.0" fill="rgb(58,58,58)" filter="url(#b2)"/>
<rect x="48.1" y="25.8" width="31.0" height="5.0" rx="2.5" fill="rgb(166,166,166)" filter="url(#b1)"/>
<rect x="87.1" y="22.3" width="34.0" height="12.0" rx="3.0" fill="rgb(85,85,85)" filter="url(#b2)"/>
<rect x="88.6" y="24.8" width="31.0" height="7.0" rx="3.0" fill="rgb(242,242,242)" filter="url(#b1)"/>
<rect x="127.1" y="22.8" width="34.0" height="11.0" rx="3.0" fill="rgb(67,67,67)" filter="url(#b2)"/>
<rect x="128.6" y="25.3" width="31.0" height="6.0" rx="3.0" fill="rgb(191,191,191)" filter="url(#b1)"/>
<rect x="168.1" y="23.3" width="34.0" height="10.0" rx="3.0" fill="rgb(49,49,49)" filter="url(#b2)"/>
<rect x="169.6" y="25.8" width="31.0" height="5.0" rx="2.5" fill="rgb(140,140,140)" filter="url(#b1)"/>
<rect x="208.8" y="23.3" width="34.0" height="10.0" rx="3.0" fill="rgb(40,40,40)" filter="url(#b2)"/>
<rect x="210.3" y="25.8" width="31.0" height="5.0" rx="2.5" fill="rgb(115,115,115)" filter="url(#b1)"/>
<rect x="248.1" y="23.3" width="34.0" height="10.0" rx="3.0" fill="rgb(54,54,54)" filter="url(#b2)"/>
<rect x="249.6" y="25.8" width="31.0" height="5.0" rx="2.5" fill="rgb(153,153,153)" filter="url(#b1)"/>
<rect x="289.6" y="22.8" width="34.0" height="11.0" rx="3.0" fill="rgb(76,76,76)" filter="url(#b2)"/>
<rect x="291.1" y="25.3" width="31.0" height="6.0" rx="3.0" fill="rgb(217,217,217)" filter="url(#b1)"/>
<rect x="329.1" y="23.3" width="34.0" height="10.0" rx="3.0" fill="rgb(49,49,49)" filter="url(#b2)"/>
<rect x="330.6" y="25.8" width="31.0" height="5.0" rx="2.5" fill="rgb(140,140,140)" filter="url(#b1)"/>
<rect x="370.6" y="21.8" width="34.0" height="13.0" rx="3.0" fill="rgb(85,85,85)" filter="url(#b2)"/>
<rect x="372.1" y="24.3" width="31.0" height="8.0" rx="3.0" fill="rgb(242,242,242)" filter="url(#b1)"/>
<rect x="412.1" y="22.8" width="34.0" height="11.0" rx="3.0" fill="rgb(71,71,71)" filter="url(#b2)"/>
<rect x="413.6" y="25.3" width="31.0" height="6.0" rx="3.0" fill="rgb(204,204,204)" filter="url(#b1)"/>
<rect x="453.6" y="23.3" width="34.0" height="10.0" rx="3.0" fill="rgb(58,58,58)" filter="url(#b2)"/>
<rect x="455.1" y="25.8" width="31.0" height="5.0" rx="2.5" fill="rgb(166,166,166)" filter="url(#b1)"/>
</svg>
<rect x="82.9" y="1129.2" width="490.9" height="46.4" fill="none" stroke="#222" stroke-width="1.2"/>
<line x1="639.5" y1="91.2" x2="639.5" y2="277.5" stroke="#bdbdbd" stroke-width="1.2"/>
<line x1="635.5" y1="277.5" x2="639.5" y2="277.5" stroke="#bdbdbd" stroke-width="1.2"/>
<text x="628.3" y="281.3" font-family='"Liberation Sans", sans-serif' font-size="11" font-weight="normal" text-anchor="end" fill="#333" >0</text>
<line x1="635.5" y1="254.2" x2="639.5" y2="254.2" stroke="#bdbdbd" stroke-width="1.2"/>
<text x="628.3" y="258.0" font-family='"Liberation Sans", sans-serif' font-size="11" font-weight="normal" text-anchor="end" fill="#333" >0.2</text>
<line x1="635.5" y1="230.9" x2="639.5" y2="230.9" stroke="#bdbdbd" stroke-width="1.2"/>
<text x="628.3" y="234.7" font-family='"Liberation Sans", sans-serif' font-size="11" font-weight="normal" text-anchor="end" fill="#333" >0.4</text>
<line x1="635.5" y1="207.6" x2="639.5" y2="207.6" stroke="#bdbdbd" stroke-width="1.2"/>
<text x="628.3" y="211.4" font-family='"Liberation Sans", sans-serif' font-size="11" font-weight="normal" text-anchor="end" fill="#333" >0.6</text>
<line x1="635.5" y1="184.3" x2="639.5" y2="184.3" stroke="#bdbdbd" stroke-width="1.2"/>
<text x="628.3" y="188.2" font-family='"Liberation Sans", sans-serif' font-size="11" font-weight="normal" text-anchor="end" fill="#333" >0.8</text>
<line x1="635.5" y1="161.1" x2="639.5" y2="161.1" stroke="#bdbdbd" stroke-width="1.2"/>
<text x="628.3" y="164.9" font-family='"Liberation Sans", sans-serif' font-size="11" font-weight="normal" text-anchor="end" fill="#333" >1</text>
<line x1="635.5" y1="137.8" x2="639.5" y2="137.8" stroke="#bdbdbd" stroke-width="1.2"/>
<text x="628.3" y="141.6" font-family='"Liberation Sans", sans-serif' font-size="11" font-weight="normal" text-anchor="end" fill="#333" >1.2</text>
<line x1="635.5" y1="114.5" x2="639.5" y2="114.5" stroke="#bdbdbd" stroke-width="1.2"/>
<text x="628.3" y="118.3" font-family='"Liberation Sans", sans-serif' font-size="11" font-weight="normal" text-anchor="end" fill="#333" >1.4</text>
<line x1="635.5" y1="91.2" x2="639.5" y2="91.2" stroke="#bdbdbd" stroke-width="1.2"/>
<text x="628.3" y="95.0" font-family='"Liberation Sans", sans-serif' font-size="11" font-weight="normal" text-anchor="end" fill="#333" >1.6</text>
<rect x="651.82" y="161.06" width="16.42" height="116.44" fill="#5f5f5f"/>
<rect x="668.24" y="161.06" width="16.42" height="116.44" fill="#b2b2b2"/>
<rect x="684.66" y="161.06" width="16.42" height="116.44" fill="#7f7f7f"/>
<path d="M660.03,151.28 V170.84 M657.73,151.28 h4.6 M657.73,170.84 h4.6" stroke="#111" stroke-width="1.3" fill="none"/>
<path d="M676.45,156.41 V165.72 M674.15,156.41 h4.6 M674.15,165.72 h4.6" stroke="#111" stroke-width="1.3" fill="none"/>
<path d="M692.87,157.45 V164.67 M690.57,157.45 h4.6 M690.57,164.67 h4.6" stroke="#111" stroke-width="1.3" fill="none"/>
<rect x="725.72" y="135.68" width="16.42" height="141.82" fill="#5f5f5f"/>
<rect x="742.14" y="169.91" width="16.42" height="107.59" fill="#b2b2b2"/>
<rect x="758.56" y="164.21" width="16.42" height="113.29" fill="#7f7f7f"/>
<path d="M733.93,124.38 V146.97 M731.63,124.38 h4.6 M731.63,146.97 h4.6" stroke="#111" stroke-width="1.3" fill="none"/>
<path d="M750.35,165.95 V173.87 M748.05,165.95 h4.6 M748.05,173.87 h4.6" stroke="#111" stroke-width="1.3" fill="none"/>
<path d="M766.77,149.30 V179.11 M764.47,149.30 h4.6 M764.47,179.11 h4.6" stroke="#111" stroke-width="1.3" fill="none"/>
<rect x="799.62" y="117.98" width="16.42" height="159.52" fill="#5f5f5f"/>
<rect x="816.04" y="123.92" width="16.42" height="153.58" fill="#b2b2b2"/>
<rect x="832.46" y="122.06" width="16.42" height="155.44" fill="#7f7f7f"/>
<path d="M807.83,107.97 V127.99 M805.53,107.97 h4.6 M805.53,127.99 h4.6" stroke="#111" stroke-width="1.3" fill="none"/>
<text x="807.8" y="95.0" font-family='"Liberation Sans", sans-serif' font-size="8" font-weight="normal" text-anchor="middle" fill="#222" >**</text>
<path d="M824.25,105.29 V142.55 M821.95,105.29 h4.6 M821.95,142.55 h4.6" stroke="#111" stroke-width="1.3" fill="none"/>
<path d="M840.67,110.76 V133.35 M838.37,110.76 h4.6 M838.37,133.35 h4.6" stroke="#111" stroke-width="1.3" fill="none"/>
<text x="840.7" y="100.7" font-family='"Liberation Sans", sans-serif' font-size="8" font-weight="normal" text-anchor="middle" fill="#222" >**</text>
<rect x="873.52" y="144.64" width="16.42" height="132.86" fill="#5f5f5f"/>
<rect x="889.94" y="114.14" width="16.42" height="163.36" fill="#b2b2b2"/>
<rect x="906.36" y="171.43" width="16.42" height="106.07" fill="#7f7f7f"/>
<path d="M881.73,130.91 V158.38 M879.43,130.91 h4.6 M879.43,158.38 h4.6" stroke="#111" stroke-width="1.3" fill="none"/>
<path d="M898.15,111.23 V117.05 M895.85,111.23 h4.6 M895.85,117.05 h4.6" stroke="#111" stroke-width="1.3" fill="none"/>
<path d="M914.57,165.72 V177.13 M912.27,165.72 h4.6 M912.27,177.13 h4.6" stroke="#111" stroke-width="1.3" fill="none"/>
<text x="914.6" y="150.4" font-family='"Liberation Sans", sans-serif' font-size="8" font-weight="normal" text-anchor="middle" fill="#222" >**</text>
<line x1="639.5" y1="277.5" x2="935" y2="277.5" stroke="#bdbdbd" stroke-width="1.2"/>
<line x1="639.5" y1="277.5" x2="639.5" y2="281.5" stroke="#bdbdbd" stroke-width="1.2"/>
<line x1="713.4" y1="277.5" x2="713.4" y2="281.5" stroke="#bdbdbd" stroke-width="1.2"/>
<line x1="787.3" y1="277.5" x2="787.3" y2="281.5" stroke="#bdbdbd" stroke-width="1.2"/>
<line x1="861.2" y1="277.5" x2="861.2" y2="281.5" stroke="#bdbdbd" stroke-width="1.2"/>
<line x1="935.1" y1="277.5" x2="935.1" y2="281.5" stroke="#bdbdbd" stroke-width="1.2"/>
<text x="676.5" y="298.8" font-family='"Liberation Sans", sans-serif' font-size="11" font-weight="normal" text-anchor="middle" fill="#222" textLength="34.5" lengthAdjust="spacingAndGlyphs">control</text>
<text x="750.4" y="298.8" font-family='"Liberation Sans", sans-serif' font-size="11" font-weight="normal" text-anchor="middle" fill="#222" textLength="24.5" lengthAdjust="spacingAndGlyphs">C-PC</text>
<text x="824.2" y="298.8" font-family='"Liberation Sans", sans-serif' font-size="11" font-weight="normal" text-anchor="middle" fill="#222" textLength="30" lengthAdjust="spacingAndGlyphs">DMBA</text>
<text x="898.2" y="298.8" font-family='"Liberation Sans", sans-serif' font-size="11" font-weight="normal" text-anchor="middle" fill="#222" textLength="54" lengthAdjust="spacingAndGlyphs">DMBA C-PC</text>
<line x1="644.5" y1="370.8" x2="644.5" y2="563.8" stroke="#bdbdbd" stroke-width="1.2"/>
<line x1="640.5" y1="563.8" x2="644.5" y2="563.8" stroke="#bdbdbd" stroke-width="1.2"/>
<text x="633.0" y="567.6" font-family='"Liberation Sans", sans-serif' font-size="11" font-weight="normal" text-anchor="end" fill="#333" >0</text>
<line x1="640.5" y1="525.2" x2="644.5" y2="525.2" stroke="#bdbdbd" stroke-width="1.2"/>
<text x="633.0" y="529.0" font-family='"Liberation Sans", sans-serif' font-size="11" font-weight="normal" text-anchor="end" fill="#333" >0.5</text>
<line x1="640.5" y1="486.6" x2="644.5" y2="486.6" stroke="#bdbdbd" stroke-width="1.2"/>
<text x="633.0" y="490.4" font-family='"Liberation Sans", sans-serif' font-size="11" font-weight="normal" text-anchor="end" fill="#333" >1</text>
<line x1="640.5" y1="448.0" x2="644.5" y2="448.0" stroke="#bdbdbd" stroke-width="1.2"/>
<text x="633.0" y="451.8" font-family='"Liberation Sans", sans-serif' font-size="11" font-weight="normal" text-anchor="end" fill="#333" >1.5</text>
<line x1="640.5" y1="409.4" x2="644.5" y2="409.4" stroke="#bdbdbd" stroke-width="1.2"/>
<text x="633.0" y="413.2" font-family='"Liberation Sans", sans-serif' font-size="11" font-weight="normal" text-anchor="end" fill="#333" >2</text>
<line x1="640.5" y1="370.8" x2="644.5" y2="370.8" stroke="#bdbdbd" stroke-width="1.2"/>
<text x="633.0" y="374.6" font-family='"Liberation Sans", sans-serif' font-size="11" font-weight="normal" text-anchor="end" fill="#333" >2.5</text>
<rect x="657.12" y="486.60" width="16.82" height="77.20" fill="#5f5f5f"/>
<rect x="673.94" y="486.60" width="16.82" height="77.20" fill="#b2b2b2"/>
<rect x="690.76" y="486.60" width="16.82" height="77.20" fill="#7f7f7f"/>
<path d="M665.53,483.74 V489.46 M663.23,483.74 h4.6 M663.23,489.46 h4.6" stroke="#111" stroke-width="1.3" fill="none"/>
<path d="M682.35,482.74 V490.46 M680.05,482.74 h4.6 M680.05,490.46 h4.6" stroke="#111" stroke-width="1.3" fill="none"/>
<path d="M699.17,482.82 V490.38 M696.87,482.82 h4.6 M696.87,490.38 h4.6" stroke="#111" stroke-width="1.3" fill="none"/>
<rect x="732.82" y="485.06" width="16.82" height="78.74" fill="#5f5f5f"/>
<rect x="749.64" y="483.13" width="16.82" height="80.67" fill="#b2b2b2"/>
<rect x="766.46" y="486.14" width="16.82" height="77.66" fill="#7f7f7f"/>
<path d="M741.23,482.35 V487.76 M738.93,482.35 h4.6 M738.93,487.76 h4.6" stroke="#111" stroke-width="1.3" fill="none"/>
<path d="M758.05,479.96 V486.29 M755.75,479.96 h4.6 M755.75,486.29 h4.6" stroke="#111" stroke-width="1.3" fill="none"/>
<path d="M774.87,481.04 V491.23 M772.57,481.04 h4.6 M772.57,491.23 h4.6" stroke="#111" stroke-width="1.3" fill="none"/>
<rect x="808.52" y="426.62" width="16.82" height="137.18" fill="#5f5f5f"/>
<rect x="825.34" y="433.02" width="16.82" height="130.78" fill="#b2b2b2"/>
<rect x="842.16" y="404.38" width="16.82" height="159.42" fill="#7f7f7f"/>
<path d="M816.93,422.29 V430.94 M814.63,422.29 h4.6 M814.63,430.94 h4.6" stroke="#111" stroke-width="1.3" fill="none"/>
<text x="816.9" y="415.9" font-family='"Liberation Sans", sans-serif' font-size="8" font-weight="normal" text-anchor="middle" fill="#222" >***</text>
<path d="M833.75,431.09 V434.95 M831.45,431.09 h4.6 M831.45,434.95 h4.6" stroke="#111" stroke-width="1.3" fill="none"/>
<text x="833.8" y="422.3" font-family='"Liberation Sans", sans-serif' font-size="8" font-weight="normal" text-anchor="middle" fill="#222" >***</text>
<path d="M850.57,398.90 V409.86 M848.27,398.90 h4.6 M848.27,409.86 h4.6" stroke="#111" stroke-width="1.3" fill="none"/>
<text x="850.6" y="391.8" font-family='"Liberation Sans", sans-serif' font-size="8" font-weight="normal" text-anchor="middle" fill="#222" >***</text>
<rect x="884.22" y="492.16" width="16.82" height="71.64" fill="#5f5f5f"/>
<rect x="901.04" y="490.31" width="16.82" height="73.49" fill="#b2b2b2"/>
<rect x="917.86" y="483.13" width="16.82" height="80.67" fill="#7f7f7f"/>
<path d="M892.63,488.61 V495.71 M890.33,488.61 h4.6 M890.33,495.71 h4.6" stroke="#111" stroke-width="1.3" fill="none"/>
<text x="892.6" y="480.4" font-family='"Liberation Sans", sans-serif' font-size="8" font-weight="normal" text-anchor="middle" fill="#222" >***</text>
<path d="M909.45,486.75 V493.86 M907.15,486.75 h4.6 M907.15,493.86 h4.6" stroke="#111" stroke-width="1.3" fill="none"/>
<text x="909.5" y="472.1" font-family='"Liberation Sans", sans-serif' font-size="8" font-weight="normal" text-anchor="middle" fill="#222" >***</text>
<path d="M926.27,480.27 V485.98 M923.97,480.27 h4.6 M923.97,485.98 h4.6" stroke="#111" stroke-width="1.3" fill="none"/>
<text x="926.3" y="468.0" font-family='"Liberation Sans", sans-serif' font-size="8" font-weight="normal" text-anchor="middle" fill="#222" >***</text>
<line x1="644.5" y1="563.8" x2="947.3" y2="563.8" stroke="#bdbdbd" stroke-width="1.2"/>
<line x1="644.5" y1="563.8" x2="644.5" y2="567.8" stroke="#bdbdbd" stroke-width="1.2"/>
<line x1="720.2" y1="563.8" x2="720.2" y2="567.8" stroke="#bdbdbd" stroke-width="1.2"/>
<line x1="795.9" y1="563.8" x2="795.9" y2="567.8" stroke="#bdbdbd" stroke-width="1.2"/>
<line x1="871.6" y1="563.8" x2="871.6" y2="567.8" stroke="#bdbdbd" stroke-width="1.2"/>
<line x1="947.3" y1="563.8" x2="947.3" y2="567.8" stroke="#bdbdbd" stroke-width="1.2"/>
<text x="682.4" y="585.0" font-family='"Liberation Sans", sans-serif' font-size="11" font-weight="normal" text-anchor="middle" fill="#222" textLength="35" lengthAdjust="spacingAndGlyphs">Control</text>
<text x="758.0" y="585.0" font-family='"Liberation Sans", sans-serif' font-size="11" font-weight="normal" text-anchor="middle" fill="#222" textLength="23.6" lengthAdjust="spacingAndGlyphs">C-PC</text>
<text x="833.8" y="585.0" font-family='"Liberation Sans", sans-serif' font-size="11" font-weight="normal" text-anchor="middle" fill="#222" textLength="29.6" lengthAdjust="spacingAndGlyphs">DMBA</text>
<text x="909.5" y="585.0" font-family='"Liberation Sans", sans-serif' font-size="11" font-weight="normal" text-anchor="middle" fill="#222" textLength="61.5" lengthAdjust="spacingAndGlyphs">DMBA + C-PC</text>
<line x1="639.5" y1="670.3" x2="639.5" y2="866.7" stroke="#bdbdbd" stroke-width="1.2"/>
<line x1="635.5" y1="866.7" x2="639.5" y2="866.7" stroke="#bdbdbd" stroke-width="1.2"/>
<text x="628.3" y="870.5" font-family='"Liberation Sans", sans-serif' font-size="11" font-weight="normal" text-anchor="end" fill="#333" >0</text>
<line x1="635.5" y1="844.9" x2="639.5" y2="844.9" stroke="#bdbdbd" stroke-width="1.2"/>
<text x="628.3" y="848.7" font-family='"Liberation Sans", sans-serif' font-size="11" font-weight="normal" text-anchor="end" fill="#333" >0.2</text>
<line x1="635.5" y1="823.1" x2="639.5" y2="823.1" stroke="#bdbdbd" stroke-width="1.2"/>
<text x="628.3" y="826.9" font-family='"Liberation Sans", sans-serif' font-size="11" font-weight="normal" text-anchor="end" fill="#333" >0.4</text>
<line x1="635.5" y1="801.2" x2="639.5" y2="801.2" stroke="#bdbdbd" stroke-width="1.2"/>
<text x="628.3" y="805.0" font-family='"Liberation Sans", sans-serif' font-size="11" font-weight="normal" text-anchor="end" fill="#333" >0.6</text>
<line x1="635.5" y1="779.4" x2="639.5" y2="779.4" stroke="#bdbdbd" stroke-width="1.2"/>
<text x="628.3" y="783.2" font-family='"Liberation Sans", sans-serif' font-size="11" font-weight="normal" text-anchor="end" fill="#333" >0.8</text>
<line x1="635.5" y1="757.6" x2="639.5" y2="757.6" stroke="#bdbdbd" stroke-width="1.2"/>
<text x="628.3" y="761.4" font-family='"Liberation Sans", sans-serif' font-size="11" font-weight="normal" text-anchor="end" fill="#333" >1</text>
<line x1="635.5" y1="735.8" x2="639.5" y2="735.8" stroke="#bdbdbd" stroke-width="1.2"/>
<text x="628.3" y="739.6" font-family='"Liberation Sans", sans-serif' font-size="11" font-weight="normal" text-anchor="end" fill="#333" >1.2</text>
<line x1="635.5" y1="714.0" x2="639.5" y2="714.0" stroke="#bdbdbd" stroke-width="1.2"/>
<text x="628.3" y="717.8" font-family='"Liberation Sans", sans-serif' font-size="11" font-weight="normal" text-anchor="end" fill="#333" >1.4</text>
<line x1="635.5" y1="692.1" x2="639.5" y2="692.1" stroke="#bdbdbd" stroke-width="1.2"/>
<text x="628.3" y="695.9" font-family='"Liberation Sans", sans-serif' font-size="11" font-weight="normal" text-anchor="end" fill="#333" >1.6</text>
<line x1="635.5" y1="670.3" x2="639.5" y2="670.3" stroke="#bdbdbd" stroke-width="1.2"/>
<text x="628.3" y="674.1" font-family='"Liberation Sans", sans-serif' font-size="11" font-weight="normal" text-anchor="end" fill="#333" >1.8</text>
<rect x="652.05" y="757.60" width="16.73" height="109.10" fill="#5f5f5f"/>
<rect x="668.78" y="757.60" width="16.73" height="109.10" fill="#b2b2b2"/>
<rect x="685.52" y="757.60" width="16.73" height="109.10" fill="#7f7f7f"/>
<path d="M660.42,755.42 V759.78 M658.12,755.42 h4.6 M658.12,759.78 h4.6" stroke="#111" stroke-width="1.3" fill="none"/>
<path d="M677.15,749.42 V765.78 M674.85,749.42 h4.6 M674.85,765.78 h4.6" stroke="#111" stroke-width="1.3" fill="none"/>
<path d="M693.88,751.38 V763.82 M691.58,751.38 h4.6 M691.58,763.82 h4.6" stroke="#111" stroke-width="1.3" fill="none"/>
<rect x="727.35" y="729.12" width="16.73" height="137.58" fill="#5f5f5f"/>
<rect x="744.08" y="735.89" width="16.73" height="130.81" fill="#b2b2b2"/>
<rect x="760.82" y="763.38" width="16.73" height="103.32" fill="#7f7f7f"/>
<path d="M735.72,712.98 V745.27 M733.42,712.98 h4.6 M733.42,745.27 h4.6" stroke="#111" stroke-width="1.3" fill="none"/>
<path d="M752.45,732.29 V739.49 M750.15,732.29 h4.6 M750.15,739.49 h4.6" stroke="#111" stroke-width="1.3" fill="none"/>
<path d="M769.18,759.24 V767.53 M766.88,759.24 h4.6 M766.88,767.53 h4.6" stroke="#111" stroke-width="1.3" fill="none"/>
<rect x="802.65" y="725.31" width="16.73" height="141.39" fill="#5f5f5f"/>
<rect x="819.38" y="721.92" width="16.73" height="144.78" fill="#b2b2b2"/>
<rect x="836.12" y="844.12" width="16.73" height="22.58" fill="#7f7f7f"/>
<path d="M811.02,717.78 V732.83 M808.72,717.78 h4.6 M808.72,732.83 h4.6" stroke="#111" stroke-width="1.3" fill="none"/>
<path d="M827.75,709.92 V733.93 M825.45,709.92 h4.6 M825.45,733.93 h4.6" stroke="#111" stroke-width="1.3" fill="none"/>
<path d="M844.48,842.04 V846.19 M842.18,842.04 h4.6 M842.18,846.19 h4.6" stroke="#111" stroke-width="1.3" fill="none"/>
<text x="844.5" y="832.6" font-family='"Liberation Sans", sans-serif' font-size="8" font-weight="normal" text-anchor="middle" fill="#222" >***</text>
<rect x="877.95" y="696.72" width="16.73" height="169.98" fill="#5f5f5f"/>
<rect x="894.68" y="750.94" width="16.73" height="115.76" fill="#b2b2b2"/>
<rect x="911.42" y="768.73" width="16.73" height="97.97" fill="#7f7f7f"/>
<path d="M886.32,681.67 V711.78 M884.02,681.67 h4.6 M884.02,711.78 h4.6" stroke="#111" stroke-width="1.3" fill="none"/>
<path d="M903.05,745.49 V756.40 M900.75,745.49 h4.6 M900.75,756.40 h4.6" stroke="#111" stroke-width="1.3" fill="none"/>
<path d="M919.78,764.91 V772.55 M917.48,764.91 h4.6 M917.48,772.55 h4.6" stroke="#111" stroke-width="1.3" fill="none"/>
<text x="918.5" y="757.2" font-family='"Liberation Sans", sans-serif' font-size="8" font-weight="normal" text-anchor="middle" fill="#222" >***</text>
<line x1="639.5" y1="866.7" x2="940.7" y2="866.7" stroke="#bdbdbd" stroke-width="1.2"/>
<line x1="639.5" y1="866.7" x2="639.5" y2="870.7" stroke="#bdbdbd" stroke-width="1.2"/>
<line x1="714.8" y1="866.7" x2="714.8" y2="870.7" stroke="#bdbdbd" stroke-width="1.2"/>
<line x1="790.1" y1="866.7" x2="790.1" y2="870.7" stroke="#bdbdbd" stroke-width="1.2"/>
<line x1="865.4" y1="866.7" x2="865.4" y2="870.7" stroke="#bdbdbd" stroke-width="1.2"/>
<line x1="940.7" y1="866.7" x2="940.7" y2="870.7" stroke="#bdbdbd" stroke-width="1.2"/>
<text x="677.1" y="888.7" font-family='"Liberation Sans", sans-serif' font-size="11" font-weight="normal" text-anchor="middle" fill="#222" textLength="35" lengthAdjust="spacingAndGlyphs">control</text>
<text x="752.5" y="888.7" font-family='"Liberation Sans", sans-serif' font-size="11" font-weight="normal" text-anchor="middle" fill="#222" textLength="26.3" lengthAdjust="spacingAndGlyphs">C-PC</text>
<text x="827.8" y="888.7" font-family='"Liberation Sans", sans-serif' font-size="11" font-weight="normal" text-anchor="middle" fill="#222" textLength="30" lengthAdjust="spacingAndGlyphs">DMBA</text>
<text x="903.0" y="888.7" font-family='"Liberation Sans", sans-serif' font-size="11" font-weight="normal" text-anchor="middle" fill="#222" textLength="55.7" lengthAdjust="spacingAndGlyphs">DMBA C-PC</text>
<line x1="639.5" y1="973.8" x2="639.5" y2="1170.2" stroke="#bdbdbd" stroke-width="1.2"/>
<line x1="635.5" y1="1170.2" x2="639.5" y2="1170.2" stroke="#bdbdbd" stroke-width="1.2"/>
<text x="628.3" y="1174.0" font-family='"Liberation Sans", sans-serif' font-size="11" font-weight="normal" text-anchor="end" fill="#333" >0</text>
<line x1="635.5" y1="1142.1" x2="639.5" y2="1142.1" stroke="#bdbdbd" stroke-width="1.2"/>
<text x="628.3" y="1145.9" font-family='"Liberation Sans", sans-serif' font-size="11" font-weight="normal" text-anchor="end" fill="#333" >0.2</text>
<line x1="635.5" y1="1114.1" x2="639.5" y2="1114.1" stroke="#bdbdbd" stroke-width="1.2"/>
<text x="628.3" y="1117.9" font-family='"Liberation Sans", sans-serif' font-size="11" font-weight="normal" text-anchor="end" fill="#333" >0.4</text>
<line x1="635.5" y1="1086.0" x2="639.5" y2="1086.0" stroke="#bdbdbd" stroke-width="1.2"/>
<text x="628.3" y="1089.8" font-family='"Liberation Sans", sans-serif' font-size="11" font-weight="normal" text-anchor="end" fill="#333" >0.6</text>
<line x1="635.5" y1="1058.0" x2="639.5" y2="1058.0" stroke="#bdbdbd" stroke-width="1.2"/>
<text x="628.3" y="1061.8" font-family='"Liberation Sans", sans-serif' font-size="11" font-weight="normal" text-anchor="end" fill="#333" >0.8</text>
<line x1="635.5" y1="1029.9" x2="639.5" y2="1029.9" stroke="#bdbdbd" stroke-width="1.2"/>
<text x="628.3" y="1033.7" font-family='"Liberation Sans", sans-serif' font-size="11" font-weight="normal" text-anchor="end" fill="#333" >1</text>
<line x1="635.5" y1="1001.8" x2="639.5" y2="1001.8" stroke="#bdbdbd" stroke-width="1.2"/>
<text x="628.3" y="1005.6" font-family='"Liberation Sans", sans-serif' font-size="11" font-weight="normal" text-anchor="end" fill="#333" >1.2</text>
<line x1="635.5" y1="973.8" x2="639.5" y2="973.8" stroke="#bdbdbd" stroke-width="1.2"/>
<text x="628.3" y="977.6" font-family='"Liberation Sans", sans-serif' font-size="11" font-weight="normal" text-anchor="end" fill="#333" >1.4</text>
<rect x="652.37" y="1029.90" width="17.16" height="140.30" fill="#5f5f5f"/>
<rect x="669.52" y="1029.90" width="17.16" height="140.30" fill="#b2b2b2"/>
<rect x="686.68" y="1029.90" width="17.16" height="140.30" fill="#7f7f7f"/>
<path d="M660.94,1025.27 V1034.53 M658.64,1025.27 h4.6 M658.64,1034.53 h4.6" stroke="#111" stroke-width="1.3" fill="none"/>
<path d="M678.10,1024.57 V1035.23 M675.80,1024.57 h4.6 M675.80,1035.23 h4.6" stroke="#111" stroke-width="1.3" fill="none"/>
<path d="M695.26,1022.32 V1037.48 M692.96,1022.32 h4.6 M692.96,1037.48 h4.6" stroke="#111" stroke-width="1.3" fill="none"/>
<rect x="729.57" y="1024.43" width="17.16" height="145.77" fill="#5f5f5f"/>
<rect x="746.72" y="1015.31" width="17.16" height="154.89" fill="#b2b2b2"/>
<rect x="763.88" y="1020.92" width="17.16" height="149.28" fill="#7f7f7f"/>
<path d="M738.14,1020.22 V1028.64 M735.84,1020.22 h4.6 M735.84,1028.64 h4.6" stroke="#111" stroke-width="1.3" fill="none"/>
<path d="M755.30,1011.66 V1018.96 M753.00,1011.66 h4.6 M753.00,1018.96 h4.6" stroke="#111" stroke-width="1.3" fill="none"/>
<path d="M772.46,1016.99 V1024.85 M770.16,1016.99 h4.6 M770.16,1024.85 h4.6" stroke="#111" stroke-width="1.3" fill="none"/>
<rect x="806.77" y="1020.92" width="17.16" height="149.28" fill="#5f5f5f"/>
<rect x="823.92" y="1100.33" width="17.16" height="69.87" fill="#b2b2b2"/>
<rect x="841.08" y="1110.57" width="17.16" height="59.63" fill="#7f7f7f"/>
<path d="M815.34,1016.99 V1024.85 M813.04,1016.99 h4.6 M813.04,1024.85 h4.6" stroke="#111" stroke-width="1.3" fill="none"/>
<path d="M832.50,1092.75 V1107.91 M830.20,1092.75 h4.6 M830.20,1107.91 h4.6" stroke="#111" stroke-width="1.3" fill="none"/>
<text x="832.5" y="1077.6" font-family='"Liberation Sans", sans-serif' font-size="8" font-weight="normal" text-anchor="middle" fill="#222" >***</text>
<path d="M849.66,1103.14 V1118.01 M847.36,1103.14 h4.6 M847.36,1118.01 h4.6" stroke="#111" stroke-width="1.3" fill="none"/>
<text x="849.7" y="1091.1" font-family='"Liberation Sans", sans-serif' font-size="8" font-weight="normal" text-anchor="middle" fill="#222" >***</text>
<rect x="883.97" y="1017.27" width="17.16" height="152.93" fill="#5f5f5f"/>
<rect x="901.12" y="1028.50" width="17.16" height="141.70" fill="#b2b2b2"/>
<rect x="918.28" y="1029.62" width="17.16" height="140.58" fill="#7f7f7f"/>
<path d="M892.54,1008.43 V1026.11 M890.24,1008.43 h4.6 M890.24,1026.11 h4.6" stroke="#111" stroke-width="1.3" fill="none"/>
<text x="892.5" y="1005.2" font-family='"Liberation Sans", sans-serif' font-size="8" font-weight="normal" text-anchor="middle" fill="#222" >***</text>
<path d="M909.70,1021.90 V1035.09 M907.40,1021.90 h4.6 M907.40,1035.09 h4.6" stroke="#111" stroke-width="1.3" fill="none"/>
<text x="909.7" y="1015.0" font-family='"Liberation Sans", sans-serif' font-size="8" font-weight="normal" text-anchor="middle" fill="#222" >***</text>
<path d="M926.86,1025.97 V1033.27 M924.56,1025.97 h4.6 M924.56,1033.27 h4.6" stroke="#111" stroke-width="1.3" fill="none"/>
<line x1="639.5" y1="1170.2" x2="948.3" y2="1170.2" stroke="#bdbdbd" stroke-width="1.2"/>
<line x1="639.5" y1="1170.2" x2="639.5" y2="1174.2" stroke="#bdbdbd" stroke-width="1.2"/>
<line x1="716.7" y1="1170.2" x2="716.7" y2="1174.2" stroke="#bdbdbd" stroke-width="1.2"/>
<line x1="793.9" y1="1170.2" x2="793.9" y2="1174.2" stroke="#bdbdbd" stroke-width="1.2"/>
<line x1="871.1" y1="1170.2" x2="871.1" y2="1174.2" stroke="#bdbdbd" stroke-width="1.2"/>
<line x1="948.3" y1="1170.2" x2="948.3" y2="1174.2" stroke="#bdbdbd" stroke-width="1.2"/>
<text x="678.1" y="1191.8" font-family='"Liberation Sans", sans-serif' font-size="11" font-weight="normal" text-anchor="middle" fill="#222" textLength="37.5" lengthAdjust="spacingAndGlyphs">Control</text>
<text x="755.3" y="1191.8" font-family='"Liberation Sans", sans-serif' font-size="11" font-weight="normal" text-anchor="middle" fill="#222" textLength="23.6" lengthAdjust="spacingAndGlyphs">C-PC</text>
<text x="832.5" y="1191.8" font-family='"Liberation Sans", sans-serif' font-size="11" font-weight="normal" text-anchor="middle" fill="#222" textLength="31.2" lengthAdjust="spacingAndGlyphs">DMBA</text>
<text x="909.7" y="1191.8" font-family='"Liberation Sans", sans-serif' font-size="11" font-weight="normal" text-anchor="middle" fill="#222" textLength="65" lengthAdjust="spacingAndGlyphs">DMBA + C-PC</text>
</svg></body></html>
